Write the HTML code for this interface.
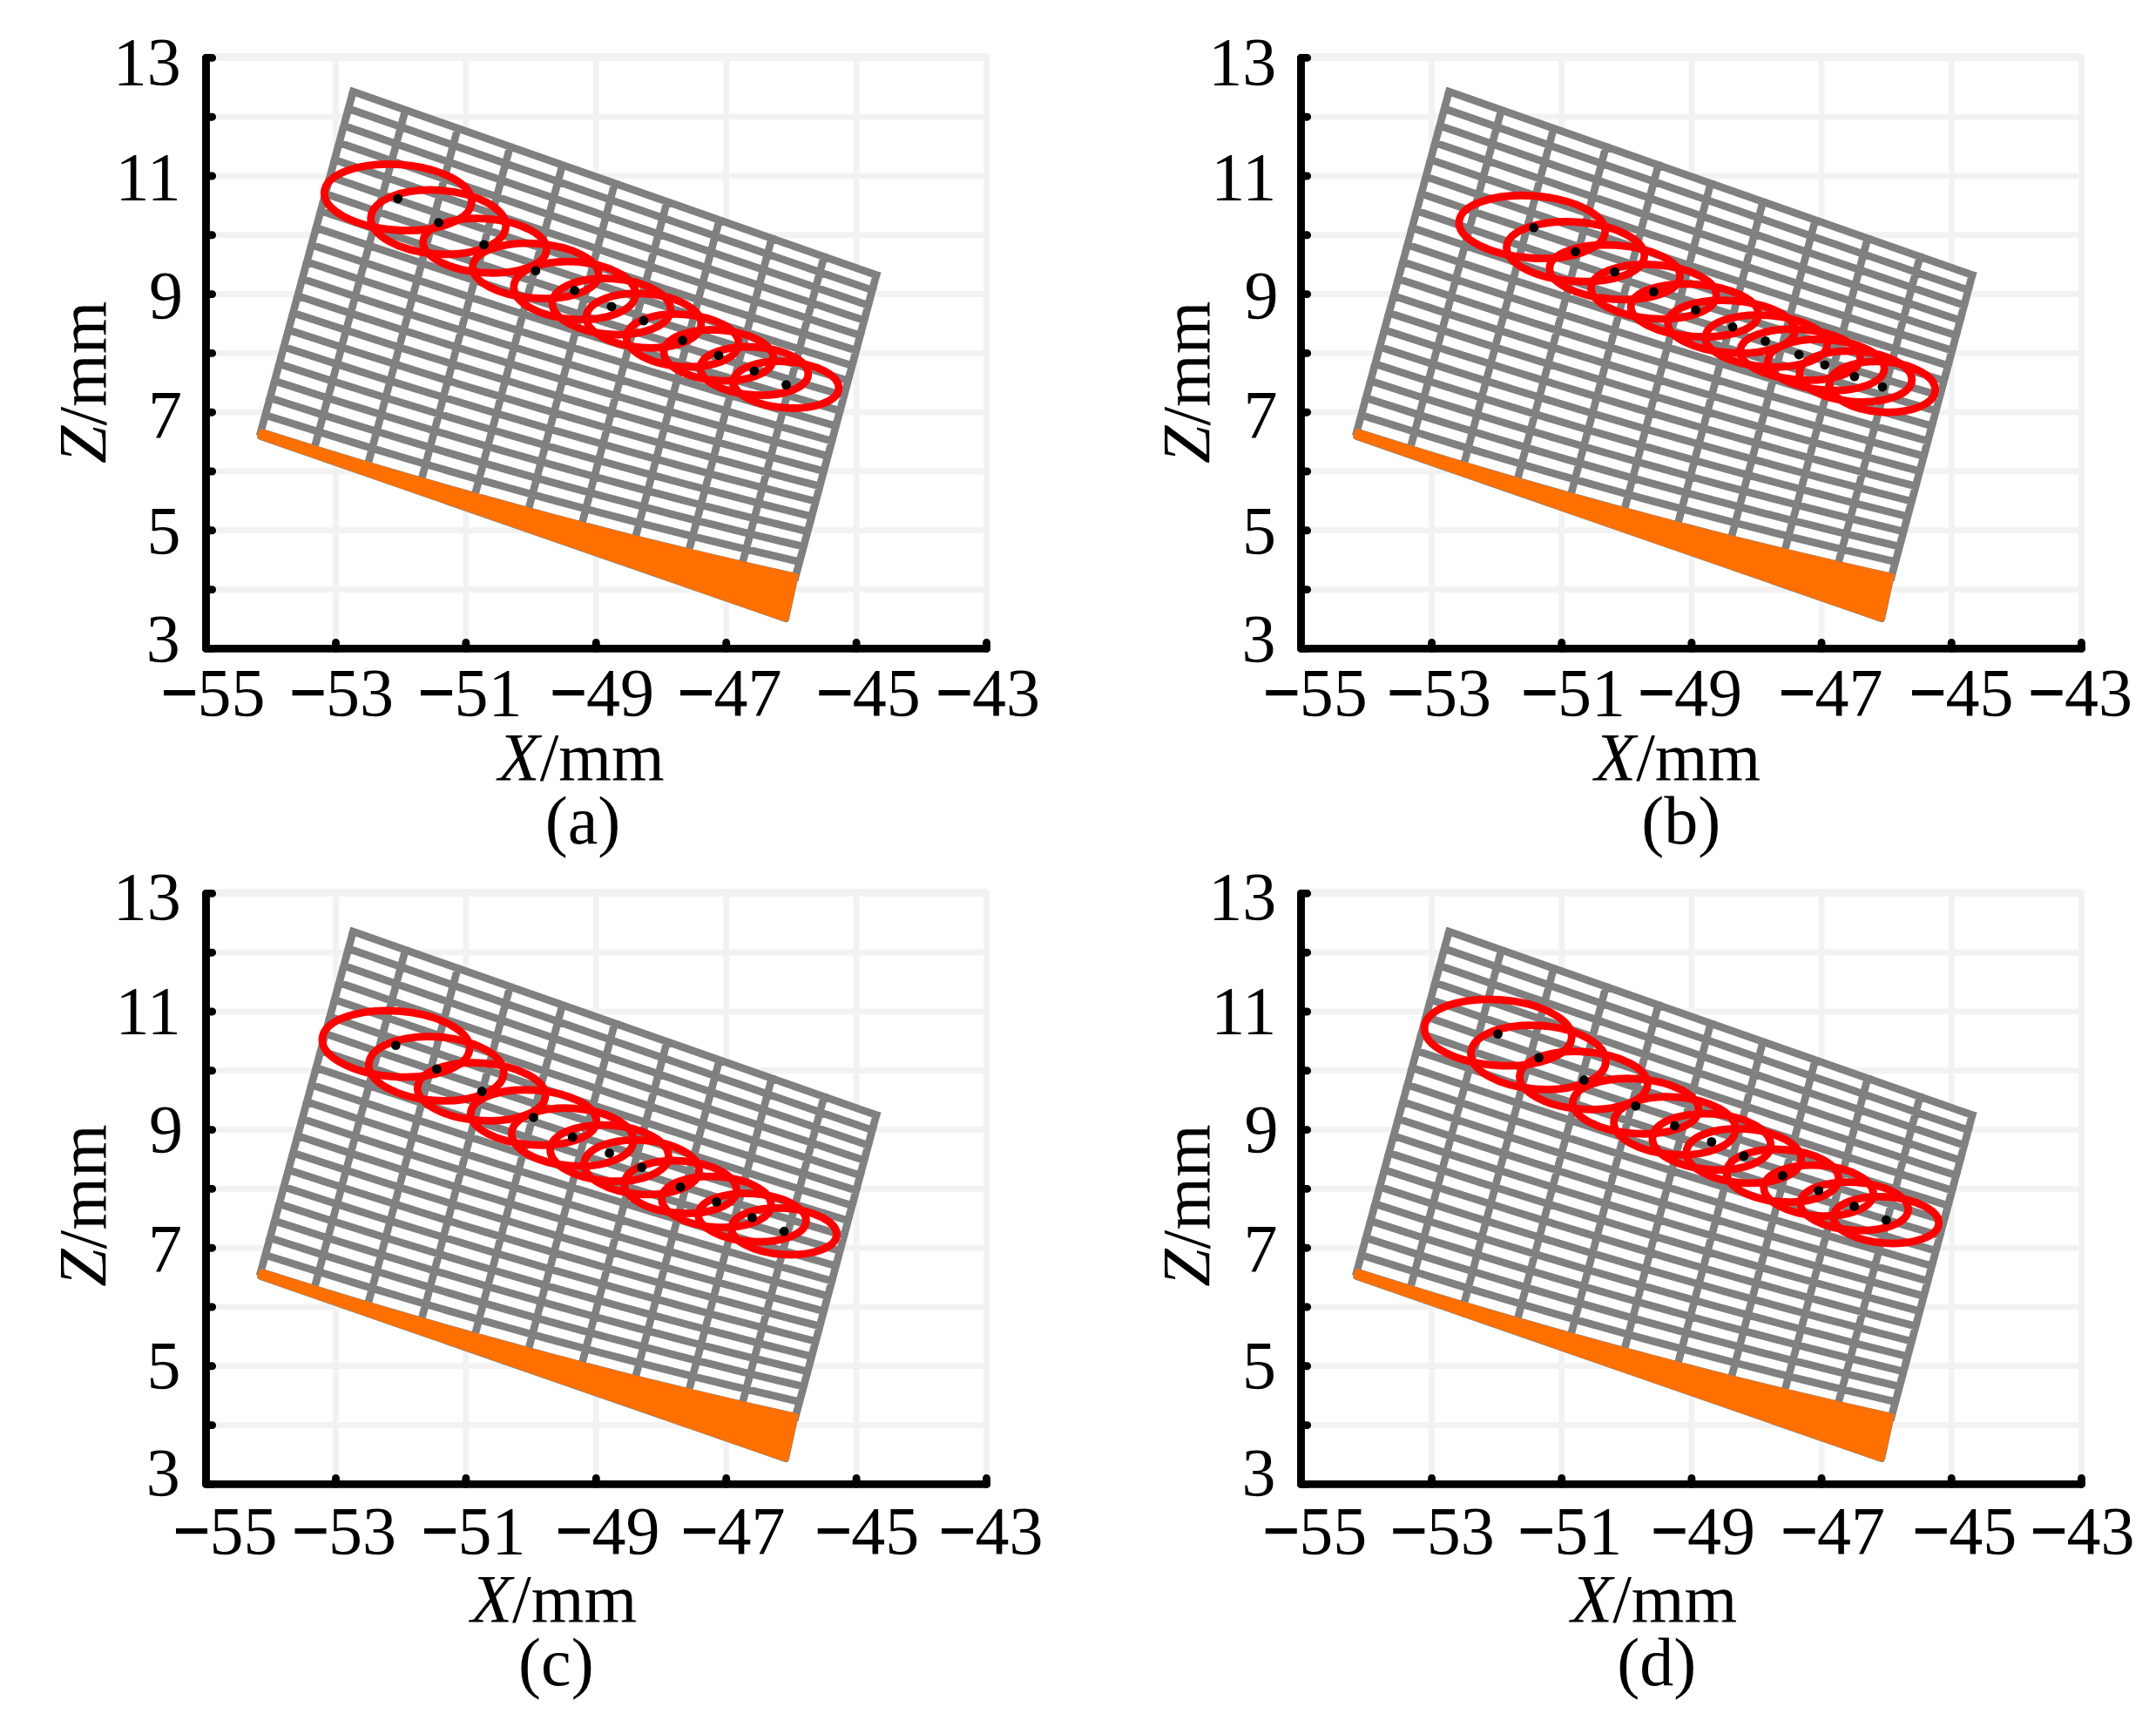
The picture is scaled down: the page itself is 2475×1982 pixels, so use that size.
<!DOCTYPE html>
<html lang="en">
<head>
<meta charset="utf-8">
<title>Figure</title>
<style>
html,body{margin:0;padding:0;background:#fff;}
body{width:2475px;height:1982px;overflow:hidden;}
svg{display:block;}
svg text{font-family:"Liberation Serif", "Times New Roman", serif;font-size:78px;fill:#000;}
svg .m{stroke:#000;stroke-width:2.4px;}
</style>
</head>
<body>
<svg width="2475" height="1982" viewBox="0 0 2475 1982">
<rect width="2475" height="1982" fill="#fff"/>
<g id="panel-a">
<path d="M236.5 676.5 H1132.5 M236.5 608.7 H1132.5 M236.5 540.9 H1132.5 M236.5 473.1 H1132.5 M236.5 405.3 H1132.5 M236.5 337.5 H1132.5 M236.5 269.7 H1132.5 M236.5 201.9 H1132.5 M236.5 134.1 H1132.5 M385.5 66.4 V744.4 M534.9 66.4 V744.4 M684.3 66.4 V744.4 M833.7 66.4 V744.4 M983.1 66.4 V744.4 M1132.5 66.4 V744.4" fill="none" stroke="#f2f2f2" stroke-width="6.8" stroke-linecap="butt"/>
<path d="M236.5 65.5 H1131.5" fill="none" stroke="#f2f2f2" stroke-width="8.9" stroke-linecap="round"/>
<polygon points="405.3,105.2 420.32,110.46 435.34,115.73 450.35,120.99 465.37,126.25 480.39,131.51 495.41,136.78 510.42,142.04 525.44,147.3 540.46,152.56 555.48,157.82 570.49,163.09 585.51,168.35 600.53,173.61 615.55,178.88 630.56,184.14 645.58,189.4 660.6,194.66 675.62,199.93 690.63,205.19 705.65,210.45 720.67,215.71 735.69,220.98 750.7,226.24 765.72,231.5 780.74,236.76 795.76,242.03 810.77,247.29 825.79,252.55 840.81,257.81 855.83,263.07 870.84,268.34 885.86,273.6 900.88,278.86 915.89,284.12 930.91,289.39 945.93,294.65 960.95,299.91 975.96,305.18 990.98,310.44 1006,315.7 913.2,661.95 913.2,661.95 897.85,658.52 882.51,655.05 867.16,651.54 851.81,648 836.46,644.42 821.12,640.8 805.77,637.14 790.42,633.45 775.07,629.72 759.73,625.96 744.38,622.16 729.03,618.32 713.68,614.44 698.34,610.53 682.99,606.58 667.64,602.59 652.29,598.57 636.95,594.51 621.6,590.41 606.25,586.27 590.9,582.1 575.56,577.89 560.21,573.65 544.86,569.37 529.51,565.05 514.16,560.69 498.82,556.3 483.47,551.87 468.12,547.4 452.78,542.9 437.43,538.35 422.08,533.78 406.73,529.16 391.38,524.51 376.04,519.82 360.69,515.1 345.34,510.33 330,505.54 314.65,500.7 299.3,495.83" fill="#fff"/>
<path d="M405.3 105.2 L1006 315.7 M400 124.73 L425.06 133.47 L450.11 142.2 L475.17 150.93 L500.23 159.65 L525.28 168.37 L550.34 177.08 L575.4 185.79 L600.45 194.49 L625.51 203.18 L650.57 211.87 L675.62 220.56 L700.68 229.24 L725.74 237.92 L750.79 246.59 L775.85 255.25 L800.91 263.91 L825.96 272.57 L851.02 281.22 L876.08 289.86 L901.13 298.5 L926.19 307.14 L951.25 315.77 L976.3 324.39 L1001.36 333.01 M394.7 144.26 L419.78 152.97 L444.87 161.66 L469.95 170.34 L495.04 179.02 L520.12 187.68 L545.21 196.33 L570.29 204.97 L595.37 213.61 L620.46 222.23 L645.54 230.84 L670.63 239.44 L695.71 248.03 L720.79 256.61 L745.88 265.18 L770.96 273.74 L796.05 282.29 L821.13 290.83 L846.22 299.36 L871.3 307.88 L896.38 316.39 L921.47 324.89 L946.55 333.38 L971.64 341.86 L996.72 350.33 M389.4 163.79 L414.51 172.46 L439.62 181.12 L464.74 189.76 L489.85 198.38 L514.96 206.99 L540.07 215.59 L565.18 224.16 L590.29 232.73 L615.4 241.27 L640.52 249.81 L665.63 258.32 L690.74 266.82 L715.85 275.31 L740.96 283.78 L766.07 292.23 L791.19 300.67 L816.3 309.1 L841.41 317.51 L866.52 325.9 L891.63 334.28 L916.75 342.64 L941.86 350.99 L966.97 359.32 L992.08 367.64 M384.1 183.33 L409.24 191.96 L434.38 200.58 L459.52 209.17 L484.66 217.75 L509.8 226.3 L534.94 234.84 L560.07 243.35 L585.21 251.85 L610.35 260.32 L635.49 268.77 L660.63 277.2 L685.77 285.61 L710.91 294.01 L736.05 302.38 L761.19 310.73 L786.33 319.05 L811.47 327.36 L836.61 335.65 L861.74 343.92 L886.88 352.17 L912.02 360.39 L937.16 368.6 L962.3 376.79 L987.44 384.95 M378.8 202.86 L403.97 211.46 L429.13 220.04 L454.3 228.59 L479.47 237.12 L504.63 245.62 L529.8 254.09 L554.97 262.54 L580.13 270.97 L605.3 279.36 L630.47 287.74 L655.63 296.08 L680.8 304.41 L705.97 312.7 L731.13 320.97 L756.3 329.22 L781.47 337.44 L806.63 345.63 L831.8 353.8 L856.97 361.94 L882.13 370.05 L907.3 378.15 L932.47 386.21 L957.63 394.25 L982.8 402.26 M373.5 222.39 L398.69 230.96 L423.89 239.5 L449.08 248.01 L474.28 256.48 L499.47 264.93 L524.66 273.35 L549.86 281.73 L575.05 290.09 L600.25 298.41 L625.44 306.7 L650.64 314.97 L675.83 323.2 L701.02 331.4 L726.22 339.57 L751.41 347.71 L776.61 355.82 L801.8 363.89 L827 371.94 L852.19 379.96 L877.38 387.94 L902.58 395.9 L927.77 403.82 L952.97 411.71 L978.16 419.58 M368.2 241.92 L393.42 250.46 L418.64 258.96 L443.87 267.42 L469.09 275.85 L494.31 284.24 L519.53 292.6 L544.75 300.92 L569.97 309.21 L595.2 317.46 L620.42 325.67 L645.64 333.85 L670.86 341.99 L696.08 350.09 L721.3 358.16 L746.52 366.2 L771.75 374.2 L796.97 382.16 L822.19 390.08 L847.41 397.97 L872.63 405.83 L897.86 413.65 L923.08 421.43 L948.3 429.18 L973.52 436.89 M362.9 261.45 L388.15 269.95 L413.4 278.42 L438.65 286.84 L463.9 295.22 L489.15 303.56 L514.39 311.85 L539.64 320.11 L564.89 328.33 L590.14 336.5 L615.39 344.63 L640.64 352.73 L665.89 360.78 L691.14 368.79 L716.39 376.76 L741.64 384.69 L766.89 392.58 L792.14 400.42 L817.38 408.23 L842.63 415.99 L867.88 423.72 L893.13 431.4 L918.38 439.04 L943.63 446.64 L968.88 454.2 M357.6 280.98 L382.88 289.45 L408.15 297.87 L433.43 306.25 L458.71 314.58 L483.98 322.87 L509.26 331.11 L534.54 339.3 L559.81 347.45 L585.09 355.55 L610.37 363.6 L635.64 371.61 L660.92 379.57 L686.2 387.49 L711.47 395.36 L736.75 403.18 L762.03 410.96 L787.3 418.69 L812.58 426.37 L837.86 434.01 L863.13 441.6 L888.41 449.15 L913.69 456.65 L938.96 464.11 L964.24 471.51 M352.3 300.51 L377.6 308.95 L402.91 317.33 L428.21 325.67 L453.52 333.95 L478.82 342.18 L504.12 350.36 L529.43 358.49 L554.73 366.57 L580.04 374.59 L605.34 382.57 L630.65 390.49 L655.95 398.36 L681.25 406.18 L706.56 413.95 L731.86 421.67 L757.17 429.34 L782.47 436.95 L807.78 444.52 L833.08 452.03 L858.38 459.49 L883.69 466.9 L908.99 474.26 L934.3 481.57 L959.6 488.83 M347 320.04 L372.33 328.45 L397.66 336.79 L423 345.08 L448.33 353.32 L473.66 361.49 L498.99 369.61 L524.32 377.68 L549.65 385.69 L574.99 393.64 L600.32 401.53 L625.65 409.37 L650.98 417.15 L676.31 424.88 L701.64 432.55 L726.98 440.16 L752.31 447.72 L777.64 455.22 L802.97 462.66 L828.3 470.05 L853.63 477.38 L878.97 484.65 L904.3 491.87 L929.63 499.03 L954.96 506.14 M341.7 339.58 L367.06 347.94 L392.42 356.25 L417.78 364.5 L443.14 372.68 L468.5 380.81 L493.86 388.87 L519.21 396.87 L544.57 404.81 L569.93 412.68 L595.29 420.5 L620.65 428.25 L646.01 435.94 L671.37 443.57 L696.73 451.14 L722.09 458.65 L747.45 466.1 L772.81 473.48 L798.17 480.81 L823.52 488.07 L848.88 495.27 L874.24 502.41 L899.6 509.48 L924.96 516.5 L950.32 523.45 M336.4 359.11 L361.79 367.44 L387.17 375.71 L412.56 383.91 L437.95 392.05 L463.33 400.12 L488.72 408.12 L514.11 416.06 L539.49 423.93 L564.88 431.73 L590.27 439.46 L615.65 447.13 L641.04 454.74 L666.43 462.27 L691.81 469.74 L717.2 477.14 L742.59 484.48 L767.97 491.75 L793.36 498.95 L818.75 506.09 L844.13 513.15 L869.52 520.16 L894.91 527.09 L920.29 533.96 L945.68 540.76 M331.1 378.64 L356.51 386.94 L381.93 395.17 L407.34 403.33 L432.76 411.42 L458.17 419.43 L483.59 427.37 L509 435.25 L534.41 443.05 L559.83 450.77 L585.24 458.43 L610.66 466.01 L636.07 473.53 L661.48 480.97 L686.9 488.34 L712.31 495.63 L737.73 502.86 L763.14 510.01 L788.56 517.09 L813.97 524.1 L839.38 531.04 L864.8 537.91 L890.21 544.7 L915.63 551.43 L941.04 558.08 M325.8 398.17 L351.24 406.44 L376.68 414.63 L402.13 422.75 L427.57 430.78 L453.01 438.74 L478.45 446.63 L503.89 454.44 L529.33 462.17 L554.78 469.82 L580.22 477.4 L605.66 484.89 L631.1 492.32 L656.54 499.66 L681.98 506.93 L707.42 514.12 L732.87 521.24 L758.31 528.28 L783.75 535.24 L809.19 542.12 L834.63 548.93 L860.08 555.66 L885.52 562.31 L910.96 568.89 L936.4 575.39 M320.5 417.7 L345.97 425.94 L371.44 434.09 L396.91 442.16 L422.38 450.15 L447.85 458.06 L473.31 465.88 L498.78 473.62 L524.25 481.29 L549.72 488.86 L575.19 496.36 L600.66 503.78 L626.13 511.11 L651.6 518.36 L677.07 525.53 L702.54 532.61 L728.01 539.62 L753.48 546.54 L778.95 553.38 L804.41 560.14 L829.88 566.82 L855.35 573.41 L880.82 579.92 L906.29 586.35 L931.76 592.7 M315.2 437.23 L340.7 445.43 L366.19 453.55 L391.69 461.58 L417.19 469.52 L442.68 477.37 L468.18 485.14 L493.68 492.81 L519.17 500.41 L544.67 507.91 L570.17 515.33 L595.66 522.66 L621.16 529.9 L646.66 537.06 L672.15 544.12 L697.65 551.11 L723.15 558 L748.64 564.81 L774.14 571.53 L799.64 578.16 L825.13 584.7 L850.63 591.16 L876.13 597.53 L901.62 603.82 L927.12 610.02 M309.9 456.76 L335.42 464.93 L360.95 473.01 L386.47 480.99 L412 488.88 L437.52 496.68 L463.05 504.39 L488.57 512 L514.09 519.53 L539.62 526.96 L565.14 534.29 L590.67 541.54 L616.19 548.69 L641.71 555.75 L667.24 562.72 L692.76 569.6 L718.29 576.38 L743.81 583.07 L769.34 589.67 L794.86 596.18 L820.38 602.59 L845.91 608.91 L871.43 615.14 L896.96 621.28 L922.48 627.33 M304.6 476.3 L330.15 484.43 L355.7 492.47 L381.26 500.41 L406.81 508.25 L432.36 515.99 L457.91 523.64 L483.46 531.19 L509.01 538.65 L534.57 546 L560.12 553.26 L585.67 560.42 L611.22 567.48 L636.77 574.45 L662.32 581.32 L687.88 588.09 L713.43 594.76 L738.98 601.34 L764.53 607.81 L790.08 614.2 L815.63 620.48 L841.19 626.67 L866.74 632.76 L892.29 638.75 L917.84 644.64 M299.3 495.83 L324.88 503.93 L350.46 511.93 L376.04 519.82 L401.62 527.62 L427.2 535.31 L452.78 542.9 L478.35 550.38 L503.93 557.77 L529.51 565.05 L555.09 572.22 L580.67 579.3 L606.25 586.27 L631.83 593.14 L657.41 599.91 L682.99 606.58 L708.57 613.14 L734.15 619.6 L759.73 625.96 L785.3 632.21 L810.88 638.37 L836.46 644.42 L862.04 650.37 L887.62 656.21 L913.2 661.95 M405.3 105.2 L299.3 495.83 M465.37 126.25 L360.69 515.1 M525.44 147.3 L422.08 533.78 M585.51 168.35 L483.47 551.87 M645.58 189.4 L544.86 569.37 M705.65 210.45 L606.25 586.27 M765.72 231.5 L667.64 602.59 M825.79 252.55 L729.03 618.32 M885.86 273.6 L790.42 633.45 M945.93 294.65 L851.81 648 M1006 315.7 L913.2 661.95" fill="none" stroke="#808080" stroke-width="8.7" stroke-linecap="square"/>
<path d="M319.88 498.66 L341.21 505.35 L362.54 511.97 L383.87 518.53 L405.21 525.01 L426.54 531.42 L447.87 537.75 L469.2 544.02 L490.53 550.22 L511.86 556.34 L533.19 562.39 L554.52 568.37 L575.85 574.28 L597.18 580.12 L618.52 585.89 L639.85 591.59 L661.18 597.21 L682.51 602.77 L703.84 608.25 L725.17 613.66 L746.5 619 L767.83 624.27 L789.16 629.46 L810.49 634.59 L831.83 639.64 L853.16 644.63 L874.49 649.54 L895.82 654.38 L917.15 659.15 L915.69 658.82 Q917.15 659.15 916.83 660.61 L906.06 710.51 Q905 715.4 900.28 713.76 L297.88 504.79 Q294.1 503.48 295.53 499.74 L297.47 494.69 Q298.55 491.89 301.41 492.8 Z" fill="#7d8388"/>
<path d="M319.73 498.31 L341.06 505 L362.39 511.62 L383.72 518.18 L405.06 524.66 L426.39 531.07 L447.72 537.4 L469.05 543.67 L490.38 549.87 L511.71 555.99 L533.04 562.04 L554.37 568.02 L575.7 573.93 L597.03 579.77 L618.37 585.54 L639.7 591.24 L661.03 596.86 L682.36 602.42 L703.69 607.9 L725.02 613.31 L746.35 618.65 L767.68 623.92 L789.01 629.11 L810.34 634.24 L831.68 639.29 L853.01 644.28 L874.34 649.19 L895.67 654.03 L917 658.8 L915.54 658.47 Q917 658.8 916.67 660.26 L905.5 709.72 Q904.4 714.6 899.68 712.96 L298.18 504.21 Q294.4 502.9 295.73 499.13 L297.4 494.37 Q298.4 491.54 301.26 492.45 Z" fill="#ff7000"/>
<ellipse cx="456.9" cy="226.4" rx="84.7" ry="37.7" transform="rotate(4 456.9 226.4)" fill="none" stroke="#ff0000" stroke-width="8.8"/>
<ellipse cx="503.2" cy="254.9" rx="77.6" ry="36.6" transform="rotate(4 503.2 254.9)" fill="none" stroke="#ff0000" stroke-width="8.8"/>
<ellipse cx="556.6" cy="282" rx="71" ry="31" transform="rotate(4 556.6 282)" fill="none" stroke="#ff0000" stroke-width="8.8"/>
<ellipse cx="614.9" cy="310.9" rx="72.4" ry="31.4" transform="rotate(4 614.9 310.9)" fill="none" stroke="#ff0000" stroke-width="8.8"/>
<ellipse cx="659.7" cy="333.4" rx="70" ry="33" transform="rotate(4 659.7 333.4)" fill="none" stroke="#ff0000" stroke-width="8.8"/>
<ellipse cx="702" cy="351.8" rx="68" ry="32" transform="rotate(4 702 351.8)" fill="none" stroke="#ff0000" stroke-width="8.8"/>
<ellipse cx="739" cy="368" rx="66" ry="31" transform="rotate(4 739 368)" fill="none" stroke="#ff0000" stroke-width="8.8"/>
<ellipse cx="783.6" cy="390.7" rx="64.5" ry="30" transform="rotate(4 783.6 390.7)" fill="none" stroke="#ff0000" stroke-width="8.8"/>
<ellipse cx="824.9" cy="407.8" rx="63" ry="29" transform="rotate(4 824.9 407.8)" fill="none" stroke="#ff0000" stroke-width="8.8"/>
<ellipse cx="865.9" cy="425.8" rx="62" ry="27.5" transform="rotate(4 865.9 425.8)" fill="none" stroke="#ff0000" stroke-width="8.8"/>
<ellipse cx="902.5" cy="441.6" rx="60.5" ry="26.6" transform="rotate(4 902.5 441.6)" fill="none" stroke="#ff0000" stroke-width="8.8"/>
<circle cx="456.7" cy="228" r="5.4" fill="#000"/>
<circle cx="503.7" cy="255.3" r="5.4" fill="#000"/>
<circle cx="555.6" cy="280.9" r="5.4" fill="#000"/>
<circle cx="614.9" cy="310.7" r="5.4" fill="#000"/>
<circle cx="659.7" cy="333.4" r="5.4" fill="#000"/>
<circle cx="702" cy="351.8" r="5.4" fill="#000"/>
<circle cx="739" cy="368" r="5.4" fill="#000"/>
<circle cx="783.6" cy="390.7" r="5.4" fill="#000"/>
<circle cx="824.9" cy="407.8" r="5.4" fill="#000"/>
<circle cx="865.9" cy="425.8" r="5.4" fill="#000"/>
<circle cx="902.5" cy="441.6" r="5.4" fill="#000"/>
<path d="M236.5 66.4 V744.4 H1132.5" fill="none" stroke="#000" stroke-width="8.9" stroke-linecap="round" stroke-linejoin="round"/>
<path d="M236.5 744.4 h7.15 M236.5 676.6 h7.15 M236.5 608.8 h7.15 M236.5 541 h7.15 M236.5 473.2 h7.15 M236.5 405.4 h7.15 M236.5 337.6 h7.15 M236.5 269.8 h7.15 M236.5 202 h7.15 M236.5 134.2 h7.15 M236.5 66.4 h7.15 M385.5 744.4 v-6.95 M534.9 744.4 v-6.95 M684.3 744.4 v-6.95 M833.7 744.4 v-6.95 M983.1 744.4 v-6.95 M1132.5 744.4 v-6.95" fill="none" stroke="#000" stroke-width="8.9" stroke-linecap="round"/>
<text x="207.7" y="97.2" text-anchor="end">13</text>
<text x="207.7" y="228.7" text-anchor="end">11</text>
<text x="210" y="364.9" text-anchor="end">9</text>
<text x="209" y="501.8" text-anchor="end">7</text>
<text x="207.4" y="635" text-anchor="end">5</text>
<text x="206.8" y="758.7" text-anchor="end">3</text>
<text x="185.5" y="820.7"><tspan class="m" textLength="41" lengthAdjust="spacingAndGlyphs">−</tspan>55</text>
<text x="333" y="820.7"><tspan class="m" textLength="41" lengthAdjust="spacingAndGlyphs">−</tspan>53</text>
<text x="480.5" y="820.7"><tspan class="m" textLength="41" lengthAdjust="spacingAndGlyphs">−</tspan>51</text>
<text x="632" y="820.7"><tspan class="m" textLength="41" lengthAdjust="spacingAndGlyphs">−</tspan>49</text>
<text x="778.5" y="820.7"><tspan class="m" textLength="41" lengthAdjust="spacingAndGlyphs">−</tspan>47</text>
<text x="937.7" y="820.7"><tspan class="m" textLength="41" lengthAdjust="spacingAndGlyphs">−</tspan>45</text>
<text x="1075" y="820.7"><tspan class="m" textLength="41" lengthAdjust="spacingAndGlyphs">−</tspan>43</text>
<text x="572" y="895.2"><tspan font-style="italic">X</tspan>/mm</text>
<text transform="translate(121 532) rotate(-90)"><tspan font-style="italic">Z</tspan>/mm</text>
<text x="625.7" y="968">(a)</text>
</g>
<g id="panel-b">
<path d="M1493.5 676.5 H2389.4 M1493.5 608.7 H2389.4 M1493.5 540.9 H2389.4 M1493.5 473.1 H2389.4 M1493.5 405.3 H2389.4 M1493.5 337.5 H2389.4 M1493.5 269.7 H2389.4 M1493.5 201.9 H2389.4 M1493.5 134.1 H2389.4 M1643.6 66.4 V744.4 M1792.76 66.4 V744.4 M1941.92 66.4 V744.4 M2091.08 66.4 V744.4 M2240.24 66.4 V744.4 M2389.4 66.4 V744.4" fill="none" stroke="#f2f2f2" stroke-width="6.8" stroke-linecap="butt"/>
<path d="M1493.5 65.5 H2388.4" fill="none" stroke="#f2f2f2" stroke-width="8.9" stroke-linecap="round"/>
<polygon points="1663.4,105.2 1678.42,110.46 1693.43,115.73 1708.45,120.99 1723.47,126.25 1738.49,131.51 1753.5,136.78 1768.52,142.04 1783.54,147.3 1798.56,152.56 1813.57,157.82 1828.59,163.09 1843.61,168.35 1858.63,173.61 1873.64,178.88 1888.66,184.14 1903.68,189.4 1918.7,194.66 1933.71,199.93 1948.73,205.19 1963.75,210.45 1978.77,215.71 1993.78,220.98 2008.8,226.24 2023.82,231.5 2038.84,236.76 2053.86,242.03 2068.87,247.29 2083.89,252.55 2098.91,257.81 2113.93,263.07 2128.94,268.34 2143.96,273.6 2158.98,278.86 2173.99,284.12 2189.01,289.39 2204.03,294.65 2219.05,299.91 2234.06,305.18 2249.08,310.44 2264.1,315.7 2171.3,661.95 2171.3,661.95 2155.95,658.52 2140.61,655.05 2125.26,651.54 2109.91,648 2094.56,644.42 2079.22,640.8 2063.87,637.14 2048.52,633.45 2033.17,629.72 2017.83,625.96 2002.48,622.16 1987.13,618.32 1971.78,614.44 1956.43,610.53 1941.09,606.58 1925.74,602.59 1910.39,598.57 1895.05,594.51 1879.7,590.41 1864.35,586.27 1849,582.1 1833.65,577.89 1818.31,573.65 1802.96,569.37 1787.61,565.05 1772.26,560.69 1756.92,556.3 1741.57,551.87 1726.22,547.4 1710.88,542.9 1695.53,538.35 1680.18,533.78 1664.83,529.16 1649.48,524.51 1634.14,519.82 1618.79,515.1 1603.44,510.33 1588.09,505.54 1572.75,500.7 1557.4,495.83" fill="#fff"/>
<path d="M1663.4 105.2 L2264.1 315.7 M1658.1 124.73 L1683.16 133.47 L1708.21 142.2 L1733.27 150.93 L1758.33 159.65 L1783.38 168.37 L1808.44 177.08 L1833.5 185.79 L1858.55 194.49 L1883.61 203.18 L1908.67 211.87 L1933.72 220.56 L1958.78 229.24 L1983.84 237.92 L2008.89 246.59 L2033.95 255.25 L2059.01 263.91 L2084.06 272.57 L2109.12 281.22 L2134.18 289.86 L2159.23 298.5 L2184.29 307.14 L2209.35 315.77 L2234.4 324.39 L2259.46 333.01 M1652.8 144.26 L1677.88 152.97 L1702.97 161.66 L1728.05 170.34 L1753.14 179.02 L1778.22 187.68 L1803.3 196.33 L1828.39 204.97 L1853.47 213.61 L1878.56 222.23 L1903.64 230.84 L1928.73 239.44 L1953.81 248.03 L1978.89 256.61 L2003.98 265.18 L2029.06 273.74 L2054.15 282.29 L2079.23 290.83 L2104.32 299.36 L2129.4 307.88 L2154.48 316.39 L2179.57 324.89 L2204.65 333.38 L2229.74 341.86 L2254.82 350.33 M1647.5 163.79 L1672.61 172.46 L1697.72 181.12 L1722.84 189.76 L1747.95 198.38 L1773.06 206.99 L1798.17 215.59 L1823.28 224.16 L1848.39 232.73 L1873.5 241.27 L1898.62 249.81 L1923.73 258.32 L1948.84 266.82 L1973.95 275.31 L1999.06 283.78 L2024.17 292.23 L2049.29 300.67 L2074.4 309.1 L2099.51 317.51 L2124.62 325.9 L2149.73 334.28 L2174.85 342.64 L2199.96 350.99 L2225.07 359.32 L2250.18 367.64 M1642.2 183.33 L1667.34 191.96 L1692.48 200.58 L1717.62 209.17 L1742.76 217.75 L1767.9 226.3 L1793.03 234.84 L1818.17 243.35 L1843.31 251.85 L1868.45 260.32 L1893.59 268.77 L1918.73 277.2 L1943.87 285.61 L1969.01 294.01 L1994.15 302.38 L2019.29 310.73 L2044.43 319.05 L2069.57 327.36 L2094.7 335.65 L2119.84 343.92 L2144.98 352.17 L2170.12 360.39 L2195.26 368.6 L2220.4 376.79 L2245.54 384.95 M1636.9 202.86 L1662.07 211.46 L1687.23 220.04 L1712.4 228.59 L1737.57 237.12 L1762.73 245.62 L1787.9 254.09 L1813.07 262.54 L1838.23 270.97 L1863.4 279.36 L1888.57 287.74 L1913.73 296.08 L1938.9 304.41 L1964.07 312.7 L1989.23 320.97 L2014.4 329.22 L2039.57 337.44 L2064.73 345.63 L2089.9 353.8 L2115.07 361.94 L2140.23 370.05 L2165.4 378.15 L2190.57 386.21 L2215.73 394.25 L2240.9 402.26 M1631.6 222.39 L1656.79 230.96 L1681.99 239.5 L1707.18 248.01 L1732.38 256.48 L1757.57 264.93 L1782.76 273.35 L1807.96 281.73 L1833.15 290.09 L1858.35 298.41 L1883.54 306.7 L1908.74 314.97 L1933.93 323.2 L1959.12 331.4 L1984.32 339.57 L2009.51 347.71 L2034.71 355.82 L2059.9 363.89 L2085.09 371.94 L2110.29 379.96 L2135.48 387.94 L2160.68 395.9 L2185.87 403.82 L2211.07 411.71 L2236.26 419.58 M1626.3 241.92 L1651.52 250.46 L1676.74 258.96 L1701.96 267.42 L1727.19 275.85 L1752.41 284.24 L1777.63 292.6 L1802.85 300.92 L1828.07 309.21 L1853.3 317.46 L1878.52 325.67 L1903.74 333.85 L1928.96 341.99 L1954.18 350.09 L1979.4 358.16 L2004.62 366.2 L2029.85 374.2 L2055.07 382.16 L2080.29 390.08 L2105.51 397.97 L2130.73 405.83 L2155.95 413.65 L2181.18 421.43 L2206.4 429.18 L2231.62 436.89 M1621 261.45 L1646.25 269.95 L1671.5 278.42 L1696.75 286.84 L1722 295.22 L1747.25 303.56 L1772.49 311.85 L1797.74 320.11 L1822.99 328.33 L1848.24 336.5 L1873.49 344.63 L1898.74 352.73 L1923.99 360.78 L1949.24 368.79 L1974.49 376.76 L1999.74 384.69 L2024.99 392.58 L2050.24 400.42 L2075.48 408.23 L2100.73 415.99 L2125.98 423.72 L2151.23 431.4 L2176.48 439.04 L2201.73 446.64 L2226.98 454.2 M1615.7 280.98 L1640.98 289.45 L1666.25 297.87 L1691.53 306.25 L1716.81 314.58 L1742.08 322.87 L1767.36 331.11 L1792.64 339.3 L1817.91 347.45 L1843.19 355.55 L1868.47 363.6 L1893.74 371.61 L1919.02 379.57 L1944.3 387.49 L1969.57 395.36 L1994.85 403.18 L2020.13 410.96 L2045.4 418.69 L2070.68 426.37 L2095.96 434.01 L2121.23 441.6 L2146.51 449.15 L2171.79 456.65 L2197.06 464.11 L2222.34 471.51 M1610.4 300.51 L1635.7 308.95 L1661.01 317.33 L1686.31 325.67 L1711.62 333.95 L1736.92 342.18 L1762.22 350.36 L1787.53 358.49 L1812.83 366.57 L1838.14 374.59 L1863.44 382.57 L1888.75 390.49 L1914.05 398.36 L1939.35 406.18 L1964.66 413.95 L1989.96 421.67 L2015.27 429.34 L2040.57 436.95 L2065.88 444.52 L2091.18 452.03 L2116.48 459.49 L2141.79 466.9 L2167.09 474.26 L2192.4 481.57 L2217.7 488.83 M1605.1 320.04 L1630.43 328.45 L1655.76 336.79 L1681.09 345.08 L1706.43 353.32 L1731.76 361.49 L1757.09 369.61 L1782.42 377.68 L1807.75 385.69 L1833.09 393.64 L1858.42 401.53 L1883.75 409.37 L1909.08 417.15 L1934.41 424.88 L1959.74 432.55 L1985.07 440.16 L2010.41 447.72 L2035.74 455.22 L2061.07 462.66 L2086.4 470.05 L2111.73 477.38 L2137.07 484.65 L2162.4 491.87 L2187.73 499.03 L2213.06 506.14 M1599.8 339.58 L1625.16 347.94 L1650.52 356.25 L1675.88 364.5 L1701.24 372.68 L1726.6 380.81 L1751.95 388.87 L1777.31 396.87 L1802.67 404.81 L1828.03 412.68 L1853.39 420.5 L1878.75 428.25 L1904.11 435.94 L1929.47 443.57 L1954.83 451.14 L1980.19 458.65 L2005.55 466.1 L2030.91 473.48 L2056.27 480.81 L2081.62 488.07 L2106.98 495.27 L2132.34 502.41 L2157.7 509.48 L2183.06 516.5 L2208.42 523.45 M1594.5 359.11 L1619.89 367.44 L1645.27 375.71 L1670.66 383.91 L1696.05 392.05 L1721.43 400.12 L1746.82 408.12 L1772.21 416.06 L1797.59 423.93 L1822.98 431.73 L1848.37 439.46 L1873.75 447.13 L1899.14 454.74 L1924.53 462.27 L1949.91 469.74 L1975.3 477.14 L2000.69 484.48 L2026.07 491.75 L2051.46 498.95 L2076.85 506.09 L2102.23 513.15 L2127.62 520.16 L2153.01 527.09 L2178.39 533.96 L2203.78 540.76 M1589.2 378.64 L1614.61 386.94 L1640.03 395.17 L1665.44 403.33 L1690.86 411.42 L1716.27 419.43 L1741.68 427.37 L1767.1 435.25 L1792.51 443.05 L1817.93 450.77 L1843.34 458.43 L1868.76 466.01 L1894.17 473.53 L1919.58 480.97 L1945 488.34 L1970.41 495.63 L1995.83 502.86 L2021.24 510.01 L2046.66 517.09 L2072.07 524.1 L2097.48 531.04 L2122.9 537.91 L2148.31 544.7 L2173.73 551.43 L2199.14 558.08 M1583.9 398.17 L1609.34 406.44 L1634.78 414.63 L1660.22 422.75 L1685.67 430.78 L1711.11 438.74 L1736.55 446.63 L1761.99 454.44 L1787.43 462.17 L1812.88 469.82 L1838.32 477.4 L1863.76 484.89 L1889.2 492.32 L1914.64 499.66 L1940.08 506.93 L1965.52 514.12 L1990.97 521.24 L2016.41 528.28 L2041.85 535.24 L2067.29 542.12 L2092.73 548.93 L2118.18 555.66 L2143.62 562.31 L2169.06 568.89 L2194.5 575.39 M1578.6 417.7 L1604.07 425.94 L1629.54 434.09 L1655.01 442.16 L1680.48 450.15 L1705.95 458.06 L1731.41 465.88 L1756.88 473.62 L1782.35 481.29 L1807.82 488.86 L1833.29 496.36 L1858.76 503.78 L1884.23 511.11 L1909.7 518.36 L1935.17 525.53 L1960.64 532.61 L1986.11 539.62 L2011.58 546.54 L2037.05 553.38 L2062.51 560.14 L2087.98 566.82 L2113.45 573.41 L2138.92 579.92 L2164.39 586.35 L2189.86 592.7 M1573.3 437.23 L1598.8 445.43 L1624.29 453.55 L1649.79 461.58 L1675.29 469.52 L1700.78 477.37 L1726.28 485.14 L1751.78 492.81 L1777.27 500.41 L1802.77 507.91 L1828.27 515.33 L1853.76 522.66 L1879.26 529.9 L1904.76 537.06 L1930.25 544.12 L1955.75 551.11 L1981.25 558 L2006.74 564.81 L2032.24 571.53 L2057.74 578.16 L2083.23 584.7 L2108.73 591.16 L2134.23 597.53 L2159.72 603.82 L2185.22 610.02 M1568 456.76 L1593.52 464.93 L1619.05 473.01 L1644.57 480.99 L1670.1 488.88 L1695.62 496.68 L1721.14 504.39 L1746.67 512 L1772.19 519.53 L1797.72 526.96 L1823.24 534.29 L1848.77 541.54 L1874.29 548.69 L1899.81 555.75 L1925.34 562.72 L1950.86 569.6 L1976.39 576.38 L2001.91 583.07 L2027.43 589.67 L2052.96 596.18 L2078.48 602.59 L2104.01 608.91 L2129.53 615.14 L2155.06 621.28 L2180.58 627.33 M1562.7 476.3 L1588.25 484.43 L1613.8 492.47 L1639.36 500.41 L1664.91 508.25 L1690.46 515.99 L1716.01 523.64 L1741.56 531.19 L1767.11 538.65 L1792.66 546 L1818.22 553.26 L1843.77 560.42 L1869.32 567.48 L1894.87 574.45 L1920.42 581.32 L1945.97 588.09 L1971.53 594.76 L1997.08 601.34 L2022.63 607.81 L2048.18 614.2 L2073.73 620.48 L2099.28 626.67 L2124.84 632.76 L2150.39 638.75 L2175.94 644.64 M1557.4 495.83 L1582.98 503.93 L1608.56 511.93 L1634.14 519.82 L1659.72 527.62 L1685.3 535.31 L1710.88 542.9 L1736.45 550.38 L1762.03 557.77 L1787.61 565.05 L1813.19 572.22 L1838.77 579.3 L1864.35 586.27 L1889.93 593.14 L1915.51 599.91 L1941.09 606.58 L1966.67 613.14 L1992.25 619.6 L2017.83 625.96 L2043.4 632.21 L2068.98 638.37 L2094.56 644.42 L2120.14 650.37 L2145.72 656.21 L2171.3 661.95 M1663.4 105.2 L1557.4 495.83 M1723.47 126.25 L1618.79 515.1 M1783.54 147.3 L1680.18 533.78 M1843.61 168.35 L1741.57 551.87 M1903.68 189.4 L1802.96 569.37 M1963.75 210.45 L1864.35 586.27 M2023.82 231.5 L1925.74 602.59 M2083.89 252.55 L1987.13 618.32 M2143.96 273.6 L2048.52 633.45 M2204.03 294.65 L2109.91 648 M2264.1 315.7 L2171.3 661.95" fill="none" stroke="#808080" stroke-width="8.7" stroke-linecap="square"/>
<path d="M1577.98 498.66 L1599.31 505.35 L1620.64 511.97 L1641.97 518.53 L1663.31 525.01 L1684.64 531.42 L1705.97 537.75 L1727.3 544.02 L1748.63 550.22 L1769.96 556.34 L1791.29 562.39 L1812.62 568.37 L1833.95 574.28 L1855.28 580.12 L1876.62 585.89 L1897.95 591.59 L1919.28 597.21 L1940.61 602.77 L1961.94 608.25 L1983.27 613.66 L2004.6 619 L2025.93 624.27 L2047.26 629.46 L2068.59 634.59 L2089.93 639.64 L2111.26 644.63 L2132.59 649.54 L2153.92 654.38 L2175.25 659.15 L2173.79 658.82 Q2175.25 659.15 2174.93 660.61 L2164.16 710.51 Q2163.1 715.4 2158.38 713.76 L1555.98 504.79 Q1552.2 503.48 1553.63 499.74 L1555.57 494.69 Q1556.65 491.89 1559.51 492.8 Z" fill="#7d8388"/>
<path d="M1577.83 498.31 L1599.16 505 L1620.49 511.62 L1641.82 518.18 L1663.16 524.66 L1684.49 531.07 L1705.82 537.4 L1727.15 543.67 L1748.48 549.87 L1769.81 555.99 L1791.14 562.04 L1812.47 568.02 L1833.8 573.93 L1855.13 579.77 L1876.47 585.54 L1897.8 591.24 L1919.13 596.86 L1940.46 602.42 L1961.79 607.9 L1983.12 613.31 L2004.45 618.65 L2025.78 623.92 L2047.11 629.11 L2068.44 634.24 L2089.78 639.29 L2111.11 644.28 L2132.44 649.19 L2153.77 654.03 L2175.1 658.8 L2173.64 658.47 Q2175.1 658.8 2174.77 660.26 L2163.6 709.72 Q2162.5 714.6 2157.78 712.96 L1556.28 504.21 Q1552.5 502.9 1553.83 499.13 L1555.5 494.37 Q1556.5 491.54 1559.36 492.45 Z" fill="#ff7000"/>
<ellipse cx="1758.8" cy="260.4" rx="84" ry="35.7" transform="rotate(4 1758.8 260.4)" fill="none" stroke="#ff0000" stroke-width="8.8"/>
<ellipse cx="1808.6" cy="288.8" rx="79.2" ry="34" transform="rotate(4 1808.6 288.8)" fill="none" stroke="#ff0000" stroke-width="8.8"/>
<ellipse cx="1853.7" cy="312.4" rx="75" ry="31" transform="rotate(4 1853.7 312.4)" fill="none" stroke="#ff0000" stroke-width="8.8"/>
<ellipse cx="1898.4" cy="334.7" rx="72" ry="31" transform="rotate(4 1898.4 334.7)" fill="none" stroke="#ff0000" stroke-width="8.8"/>
<ellipse cx="1945.4" cy="356.2" rx="73.4" ry="30" transform="rotate(4 1945.4 356.2)" fill="none" stroke="#ff0000" stroke-width="8.8"/>
<ellipse cx="1987.5" cy="375" rx="73" ry="30" transform="rotate(4 1987.5 375)" fill="none" stroke="#ff0000" stroke-width="8.8"/>
<ellipse cx="2027.6" cy="391.4" rx="70" ry="29.5" transform="rotate(4 2027.6 391.4)" fill="none" stroke="#ff0000" stroke-width="8.8"/>
<ellipse cx="2066.6" cy="407" rx="69" ry="29" transform="rotate(4 2066.6 407)" fill="none" stroke="#ff0000" stroke-width="8.8"/>
<ellipse cx="2096.3" cy="418.8" rx="67" ry="29" transform="rotate(4 2096.3 418.8)" fill="none" stroke="#ff0000" stroke-width="8.8"/>
<ellipse cx="2130.2" cy="432.1" rx="64.6" ry="29" transform="rotate(4 2130.2 432.1)" fill="none" stroke="#ff0000" stroke-width="8.8"/>
<ellipse cx="2160.9" cy="444" rx="60.7" ry="28.9" transform="rotate(4 2160.9 444)" fill="none" stroke="#ff0000" stroke-width="8.8"/>
<circle cx="1760.7" cy="261.2" r="5.4" fill="#000"/>
<circle cx="1808.6" cy="288.8" r="5.4" fill="#000"/>
<circle cx="1853.7" cy="312" r="5.4" fill="#000"/>
<circle cx="1898.4" cy="334.7" r="5.4" fill="#000"/>
<circle cx="1946.6" cy="355.8" r="5.4" fill="#000"/>
<circle cx="1989" cy="375.3" r="5.4" fill="#000"/>
<circle cx="2026.6" cy="391.4" r="5.4" fill="#000"/>
<circle cx="2065.1" cy="407" r="5.4" fill="#000"/>
<circle cx="2094.8" cy="418.8" r="5.4" fill="#000"/>
<circle cx="2128.9" cy="432.1" r="5.4" fill="#000"/>
<circle cx="2160.9" cy="444" r="5.4" fill="#000"/>
<path d="M1493.5 66.4 V744.4 H2389.4" fill="none" stroke="#000" stroke-width="8.9" stroke-linecap="round" stroke-linejoin="round"/>
<path d="M1493.5 744.4 h7.15 M1493.5 676.6 h7.15 M1493.5 608.8 h7.15 M1493.5 541 h7.15 M1493.5 473.2 h7.15 M1493.5 405.4 h7.15 M1493.5 337.6 h7.15 M1493.5 269.8 h7.15 M1493.5 202 h7.15 M1493.5 134.2 h7.15 M1493.5 66.4 h7.15 M1643.6 744.4 v-6.95 M1792.76 744.4 v-6.95 M1941.92 744.4 v-6.95 M2091.08 744.4 v-6.95 M2240.24 744.4 v-6.95 M2389.4 744.4 v-6.95" fill="none" stroke="#000" stroke-width="8.9" stroke-linecap="round"/>
<text x="1465.3" y="97.2" text-anchor="end">13</text>
<text x="1465.3" y="228.7" text-anchor="end">11</text>
<text x="1467.6" y="364.9" text-anchor="end">9</text>
<text x="1466.6" y="501.8" text-anchor="end">7</text>
<text x="1465" y="635" text-anchor="end">5</text>
<text x="1464.4" y="758.7" text-anchor="end">3</text>
<text x="1450.8" y="821"><tspan class="m" textLength="41" lengthAdjust="spacingAndGlyphs">−</tspan>55</text>
<text x="1593" y="821"><tspan class="m" textLength="41" lengthAdjust="spacingAndGlyphs">−</tspan>53</text>
<text x="1747.1" y="821"><tspan class="m" textLength="41" lengthAdjust="spacingAndGlyphs">−</tspan>51</text>
<text x="1881.1" y="821"><tspan class="m" textLength="41" lengthAdjust="spacingAndGlyphs">−</tspan>49</text>
<text x="2042.4" y="821"><tspan class="m" textLength="41" lengthAdjust="spacingAndGlyphs">−</tspan>47</text>
<text x="2192.4" y="821"><tspan class="m" textLength="41" lengthAdjust="spacingAndGlyphs">−</tspan>45</text>
<text x="2328.9" y="821"><tspan class="m" textLength="41" lengthAdjust="spacingAndGlyphs">−</tspan>43</text>
<text x="1830.5" y="894.9"><tspan font-style="italic">X</tspan>/mm</text>
<text transform="translate(1387.9 532) rotate(-90)"><tspan font-style="italic">Z</tspan>/mm</text>
<text x="1884.2" y="967.6">(b)</text>
</g>
<g id="panel-c">
<path d="M236.5 1635.5 H1132.5 M236.5 1567.7 H1132.5 M236.5 1499.9 H1132.5 M236.5 1432.1 H1132.5 M236.5 1364.3 H1132.5 M236.5 1296.5 H1132.5 M236.5 1228.7 H1132.5 M236.5 1160.9 H1132.5 M236.5 1093.1 H1132.5 M385.5 1025.4 V1703.4 M534.9 1025.4 V1703.4 M684.3 1025.4 V1703.4 M833.7 1025.4 V1703.4 M983.1 1025.4 V1703.4 M1132.5 1025.4 V1703.4" fill="none" stroke="#f2f2f2" stroke-width="6.8" stroke-linecap="butt"/>
<path d="M236.5 1024.5 H1131.5" fill="none" stroke="#f2f2f2" stroke-width="8.9" stroke-linecap="round"/>
<polygon points="405.3,1069.2 420.32,1074.46 435.34,1079.72 450.35,1084.99 465.37,1090.25 480.39,1095.51 495.41,1100.78 510.42,1106.04 525.44,1111.3 540.46,1116.56 555.48,1121.83 570.49,1127.09 585.51,1132.35 600.53,1137.61 615.55,1142.88 630.56,1148.14 645.58,1153.4 660.6,1158.66 675.62,1163.92 690.63,1169.19 705.65,1174.45 720.67,1179.71 735.69,1184.97 750.7,1190.24 765.72,1195.5 780.74,1200.76 795.76,1206.03 810.77,1211.29 825.79,1216.55 840.81,1221.81 855.83,1227.08 870.84,1232.34 885.86,1237.6 900.88,1242.86 915.89,1248.12 930.91,1253.39 945.93,1258.65 960.95,1263.91 975.96,1269.17 990.98,1274.44 1006,1279.7 913.2,1625.95 913.2,1625.95 897.85,1622.52 882.51,1619.05 867.16,1615.54 851.81,1612 836.46,1608.42 821.12,1604.8 805.77,1601.14 790.42,1597.45 775.07,1593.72 759.73,1589.96 744.38,1586.16 729.03,1582.32 713.68,1578.44 698.34,1574.53 682.99,1570.58 667.64,1566.59 652.29,1562.57 636.95,1558.51 621.6,1554.41 606.25,1550.27 590.9,1546.1 575.56,1541.89 560.21,1537.65 544.86,1533.37 529.51,1529.05 514.16,1524.69 498.82,1520.3 483.47,1515.87 468.12,1511.4 452.78,1506.9 437.43,1502.35 422.08,1497.78 406.73,1493.16 391.38,1488.51 376.04,1483.82 360.69,1479.1 345.34,1474.33 330,1469.54 314.65,1464.7 299.3,1459.83" fill="#fff"/>
<path d="M405.3 1069.2 L1006 1279.7 M400 1088.73 L425.06 1097.47 L450.11 1106.2 L475.17 1114.93 L500.23 1123.65 L525.28 1132.37 L550.34 1141.08 L575.4 1149.79 L600.45 1158.49 L625.51 1167.18 L650.57 1175.87 L675.62 1184.56 L700.68 1193.24 L725.74 1201.92 L750.79 1210.59 L775.85 1219.25 L800.91 1227.91 L825.96 1236.57 L851.02 1245.22 L876.08 1253.86 L901.13 1262.5 L926.19 1271.14 L951.25 1279.77 L976.3 1288.39 L1001.36 1297.01 M394.7 1108.26 L419.78 1116.97 L444.87 1125.66 L469.95 1134.34 L495.04 1143.02 L520.12 1151.68 L545.21 1160.33 L570.29 1168.97 L595.37 1177.61 L620.46 1186.23 L645.54 1194.84 L670.63 1203.44 L695.71 1212.03 L720.79 1220.61 L745.88 1229.18 L770.96 1237.74 L796.05 1246.29 L821.13 1254.83 L846.22 1263.36 L871.3 1271.88 L896.38 1280.39 L921.47 1288.89 L946.55 1297.38 L971.64 1305.86 L996.72 1314.33 M389.4 1127.79 L414.51 1136.46 L439.62 1145.12 L464.74 1153.76 L489.85 1162.38 L514.96 1170.99 L540.07 1179.59 L565.18 1188.16 L590.29 1196.73 L615.4 1205.27 L640.52 1213.81 L665.63 1222.32 L690.74 1230.82 L715.85 1239.31 L740.96 1247.78 L766.07 1256.23 L791.19 1264.67 L816.3 1273.1 L841.41 1281.51 L866.52 1289.9 L891.63 1298.28 L916.75 1306.64 L941.86 1314.99 L966.97 1323.32 L992.08 1331.64 M384.1 1147.33 L409.24 1155.96 L434.38 1164.58 L459.52 1173.17 L484.66 1181.75 L509.8 1190.3 L534.94 1198.84 L560.07 1207.35 L585.21 1215.85 L610.35 1224.32 L635.49 1232.77 L660.63 1241.2 L685.77 1249.61 L710.91 1258.01 L736.05 1266.38 L761.19 1274.73 L786.33 1283.05 L811.47 1291.36 L836.61 1299.65 L861.74 1307.92 L886.88 1316.17 L912.02 1324.39 L937.16 1332.6 L962.3 1340.79 L987.44 1348.95 M378.8 1166.86 L403.97 1175.46 L429.13 1184.04 L454.3 1192.59 L479.47 1201.12 L504.63 1209.62 L529.8 1218.09 L554.97 1226.54 L580.13 1234.97 L605.3 1243.36 L630.47 1251.74 L655.63 1260.08 L680.8 1268.41 L705.97 1276.7 L731.13 1284.97 L756.3 1293.22 L781.47 1301.44 L806.63 1309.63 L831.8 1317.8 L856.97 1325.94 L882.13 1334.05 L907.3 1342.15 L932.47 1350.21 L957.63 1358.25 L982.8 1366.26 M373.5 1186.39 L398.69 1194.96 L423.89 1203.5 L449.08 1212.01 L474.28 1220.48 L499.47 1228.93 L524.66 1237.35 L549.86 1245.73 L575.05 1254.09 L600.25 1262.41 L625.44 1270.7 L650.64 1278.97 L675.83 1287.2 L701.02 1295.4 L726.22 1303.57 L751.41 1311.71 L776.61 1319.82 L801.8 1327.89 L827 1335.94 L852.19 1343.96 L877.38 1351.94 L902.58 1359.9 L927.77 1367.82 L952.97 1375.71 L978.16 1383.58 M368.2 1205.92 L393.42 1214.46 L418.64 1222.96 L443.87 1231.42 L469.09 1239.85 L494.31 1248.24 L519.53 1256.6 L544.75 1264.92 L569.97 1273.21 L595.2 1281.46 L620.42 1289.67 L645.64 1297.85 L670.86 1305.99 L696.08 1314.09 L721.3 1322.16 L746.52 1330.2 L771.75 1338.2 L796.97 1346.16 L822.19 1354.08 L847.41 1361.97 L872.63 1369.83 L897.86 1377.65 L923.08 1385.43 L948.3 1393.18 L973.52 1400.89 M362.9 1225.45 L388.15 1233.95 L413.4 1242.42 L438.65 1250.84 L463.9 1259.22 L489.15 1267.56 L514.39 1275.85 L539.64 1284.11 L564.89 1292.33 L590.14 1300.5 L615.39 1308.63 L640.64 1316.73 L665.89 1324.78 L691.14 1332.79 L716.39 1340.76 L741.64 1348.69 L766.89 1356.58 L792.14 1364.42 L817.38 1372.23 L842.63 1379.99 L867.88 1387.72 L893.13 1395.4 L918.38 1403.04 L943.63 1410.64 L968.88 1418.2 M357.6 1244.98 L382.88 1253.45 L408.15 1261.87 L433.43 1270.25 L458.71 1278.58 L483.98 1286.87 L509.26 1295.11 L534.54 1303.3 L559.81 1311.45 L585.09 1319.55 L610.37 1327.6 L635.64 1335.61 L660.92 1343.57 L686.2 1351.49 L711.47 1359.36 L736.75 1367.18 L762.03 1374.96 L787.3 1382.69 L812.58 1390.37 L837.86 1398.01 L863.13 1405.6 L888.41 1413.15 L913.69 1420.65 L938.96 1428.11 L964.24 1435.51 M352.3 1264.51 L377.6 1272.95 L402.91 1281.33 L428.21 1289.67 L453.52 1297.95 L478.82 1306.18 L504.12 1314.36 L529.43 1322.49 L554.73 1330.57 L580.04 1338.59 L605.34 1346.57 L630.65 1354.49 L655.95 1362.36 L681.25 1370.18 L706.56 1377.95 L731.86 1385.67 L757.17 1393.34 L782.47 1400.95 L807.78 1408.52 L833.08 1416.03 L858.38 1423.49 L883.69 1430.9 L908.99 1438.26 L934.3 1445.57 L959.6 1452.83 M347 1284.04 L372.33 1292.45 L397.66 1300.79 L423 1309.08 L448.33 1317.32 L473.66 1325.49 L498.99 1333.61 L524.32 1341.68 L549.65 1349.69 L574.99 1357.64 L600.32 1365.53 L625.65 1373.37 L650.98 1381.15 L676.31 1388.88 L701.64 1396.55 L726.98 1404.16 L752.31 1411.72 L777.64 1419.22 L802.97 1426.66 L828.3 1434.05 L853.63 1441.38 L878.97 1448.65 L904.3 1455.87 L929.63 1463.03 L954.96 1470.14 M341.7 1303.58 L367.06 1311.94 L392.42 1320.25 L417.78 1328.5 L443.14 1336.68 L468.5 1344.81 L493.86 1352.87 L519.21 1360.87 L544.57 1368.81 L569.93 1376.68 L595.29 1384.5 L620.65 1392.25 L646.01 1399.94 L671.37 1407.57 L696.73 1415.14 L722.09 1422.65 L747.45 1430.1 L772.81 1437.48 L798.17 1444.81 L823.52 1452.07 L848.88 1459.27 L874.24 1466.41 L899.6 1473.48 L924.96 1480.5 L950.32 1487.45 M336.4 1323.11 L361.79 1331.44 L387.17 1339.71 L412.56 1347.91 L437.95 1356.05 L463.33 1364.12 L488.72 1372.12 L514.11 1380.06 L539.49 1387.93 L564.88 1395.73 L590.27 1403.46 L615.65 1411.13 L641.04 1418.74 L666.43 1426.27 L691.81 1433.74 L717.2 1441.14 L742.59 1448.48 L767.97 1455.75 L793.36 1462.95 L818.75 1470.09 L844.13 1477.15 L869.52 1484.16 L894.91 1491.09 L920.29 1497.96 L945.68 1504.76 M331.1 1342.64 L356.51 1350.94 L381.93 1359.17 L407.34 1367.33 L432.76 1375.42 L458.17 1383.43 L483.59 1391.37 L509 1399.25 L534.41 1407.05 L559.83 1414.77 L585.24 1422.43 L610.66 1430.01 L636.07 1437.53 L661.48 1444.97 L686.9 1452.34 L712.31 1459.63 L737.73 1466.86 L763.14 1474.01 L788.56 1481.09 L813.97 1488.1 L839.38 1495.04 L864.8 1501.91 L890.21 1508.7 L915.63 1515.43 L941.04 1522.08 M325.8 1362.17 L351.24 1370.44 L376.68 1378.63 L402.13 1386.75 L427.57 1394.78 L453.01 1402.74 L478.45 1410.63 L503.89 1418.44 L529.33 1426.17 L554.78 1433.82 L580.22 1441.4 L605.66 1448.89 L631.1 1456.32 L656.54 1463.66 L681.98 1470.93 L707.42 1478.12 L732.87 1485.24 L758.31 1492.28 L783.75 1499.24 L809.19 1506.12 L834.63 1512.93 L860.08 1519.66 L885.52 1526.31 L910.96 1532.89 L936.4 1539.39 M320.5 1381.7 L345.97 1389.94 L371.44 1398.09 L396.91 1406.16 L422.38 1414.15 L447.85 1422.06 L473.31 1429.88 L498.78 1437.62 L524.25 1445.29 L549.72 1452.86 L575.19 1460.36 L600.66 1467.78 L626.13 1475.11 L651.6 1482.36 L677.07 1489.53 L702.54 1496.61 L728.01 1503.62 L753.48 1510.54 L778.95 1517.38 L804.41 1524.14 L829.88 1530.82 L855.35 1537.41 L880.82 1543.92 L906.29 1550.35 L931.76 1556.7 M315.2 1401.23 L340.7 1409.43 L366.19 1417.55 L391.69 1425.58 L417.19 1433.52 L442.68 1441.37 L468.18 1449.14 L493.68 1456.81 L519.17 1464.41 L544.67 1471.91 L570.17 1479.33 L595.66 1486.66 L621.16 1493.9 L646.66 1501.06 L672.15 1508.12 L697.65 1515.11 L723.15 1522 L748.64 1528.81 L774.14 1535.53 L799.64 1542.16 L825.13 1548.7 L850.63 1555.16 L876.13 1561.53 L901.62 1567.82 L927.12 1574.02 M309.9 1420.76 L335.42 1428.93 L360.95 1437.01 L386.47 1444.99 L412 1452.88 L437.52 1460.68 L463.05 1468.39 L488.57 1476 L514.09 1483.53 L539.62 1490.96 L565.14 1498.29 L590.67 1505.54 L616.19 1512.69 L641.71 1519.75 L667.24 1526.72 L692.76 1533.6 L718.29 1540.38 L743.81 1547.07 L769.34 1553.67 L794.86 1560.18 L820.38 1566.59 L845.91 1572.91 L871.43 1579.14 L896.96 1585.28 L922.48 1591.33 M304.6 1440.3 L330.15 1448.43 L355.7 1456.47 L381.26 1464.41 L406.81 1472.25 L432.36 1479.99 L457.91 1487.64 L483.46 1495.19 L509.01 1502.65 L534.57 1510 L560.12 1517.26 L585.67 1524.42 L611.22 1531.48 L636.77 1538.45 L662.32 1545.32 L687.88 1552.09 L713.43 1558.76 L738.98 1565.34 L764.53 1571.81 L790.08 1578.2 L815.63 1584.48 L841.19 1590.67 L866.74 1596.76 L892.29 1602.75 L917.84 1608.64 M299.3 1459.83 L324.88 1467.93 L350.46 1475.93 L376.04 1483.82 L401.62 1491.62 L427.2 1499.31 L452.78 1506.9 L478.35 1514.38 L503.93 1521.77 L529.51 1529.05 L555.09 1536.22 L580.67 1543.3 L606.25 1550.27 L631.83 1557.14 L657.41 1563.91 L682.99 1570.58 L708.57 1577.14 L734.15 1583.6 L759.73 1589.96 L785.3 1596.21 L810.88 1602.37 L836.46 1608.42 L862.04 1614.37 L887.62 1620.21 L913.2 1625.95 M405.3 1069.2 L299.3 1459.83 M465.37 1090.25 L360.69 1479.1 M525.44 1111.3 L422.08 1497.78 M585.51 1132.35 L483.47 1515.87 M645.58 1153.4 L544.86 1533.37 M705.65 1174.45 L606.25 1550.27 M765.72 1195.5 L667.64 1566.59 M825.79 1216.55 L729.03 1582.32 M885.86 1237.6 L790.42 1597.45 M945.93 1258.65 L851.81 1612 M1006 1279.7 L913.2 1625.95" fill="none" stroke="#808080" stroke-width="8.7" stroke-linecap="square"/>
<path d="M319.88 1462.66 L341.21 1469.35 L362.54 1475.97 L383.87 1482.53 L405.21 1489.01 L426.54 1495.42 L447.87 1501.75 L469.2 1508.02 L490.53 1514.22 L511.86 1520.34 L533.19 1526.39 L554.52 1532.37 L575.85 1538.28 L597.18 1544.12 L618.52 1549.89 L639.85 1555.59 L661.18 1561.21 L682.51 1566.77 L703.84 1572.25 L725.17 1577.66 L746.5 1583 L767.83 1588.27 L789.16 1593.46 L810.49 1598.59 L831.83 1603.64 L853.16 1608.63 L874.49 1613.54 L895.82 1618.38 L917.15 1623.15 L915.69 1622.82 Q917.15 1623.15 916.83 1624.61 L906.06 1674.51 Q905 1679.4 900.28 1677.76 L297.88 1468.79 Q294.1 1467.47 295.53 1463.74 L297.47 1458.69 Q298.55 1455.89 301.41 1456.8 Z" fill="#7d8388"/>
<path d="M319.73 1462.31 L341.06 1469 L362.39 1475.62 L383.72 1482.18 L405.06 1488.66 L426.39 1495.07 L447.72 1501.4 L469.05 1507.67 L490.38 1513.87 L511.71 1519.99 L533.04 1526.04 L554.37 1532.02 L575.7 1537.93 L597.03 1543.77 L618.37 1549.54 L639.7 1555.24 L661.03 1560.86 L682.36 1566.42 L703.69 1571.9 L725.02 1577.31 L746.35 1582.65 L767.68 1587.92 L789.01 1593.11 L810.34 1598.24 L831.68 1603.29 L853.01 1608.28 L874.34 1613.19 L895.67 1618.03 L917 1622.8 L915.54 1622.47 Q917 1622.8 916.67 1624.26 L905.5 1673.72 Q904.4 1678.6 899.68 1676.96 L298.18 1468.21 Q294.4 1466.9 295.73 1463.13 L297.4 1458.37 Q298.4 1455.54 301.26 1456.45 Z" fill="#ff7000"/>
<ellipse cx="454.5" cy="1198" rx="84.7" ry="37.7" transform="rotate(4 454.5 1198)" fill="none" stroke="#ff0000" stroke-width="8.8"/>
<ellipse cx="500.8" cy="1226.5" rx="77.6" ry="36.6" transform="rotate(4 500.8 1226.5)" fill="none" stroke="#ff0000" stroke-width="8.8"/>
<ellipse cx="552.7" cy="1253" rx="73.5" ry="33" transform="rotate(4 552.7 1253)" fill="none" stroke="#ff0000" stroke-width="8.8"/>
<ellipse cx="612.5" cy="1282.5" rx="72.4" ry="31.4" transform="rotate(4 612.5 1282.5)" fill="none" stroke="#ff0000" stroke-width="8.8"/>
<ellipse cx="657.3" cy="1305" rx="70" ry="33" transform="rotate(4 657.3 1305)" fill="none" stroke="#ff0000" stroke-width="8.8"/>
<ellipse cx="699.6" cy="1323.4" rx="68" ry="32" transform="rotate(4 699.6 1323.4)" fill="none" stroke="#ff0000" stroke-width="8.8"/>
<ellipse cx="736.6" cy="1339.6" rx="66" ry="31" transform="rotate(4 736.6 1339.6)" fill="none" stroke="#ff0000" stroke-width="8.8"/>
<ellipse cx="781.2" cy="1362.3" rx="64.5" ry="30" transform="rotate(4 781.2 1362.3)" fill="none" stroke="#ff0000" stroke-width="8.8"/>
<ellipse cx="822.5" cy="1379.4" rx="63" ry="29" transform="rotate(4 822.5 1379.4)" fill="none" stroke="#ff0000" stroke-width="8.8"/>
<ellipse cx="863.5" cy="1397.4" rx="62" ry="27.5" transform="rotate(4 863.5 1397.4)" fill="none" stroke="#ff0000" stroke-width="8.8"/>
<ellipse cx="900.1" cy="1413.2" rx="60.5" ry="26.6" transform="rotate(4 900.1 1413.2)" fill="none" stroke="#ff0000" stroke-width="8.8"/>
<circle cx="454.3" cy="1199.6" r="5.4" fill="#000"/>
<circle cx="501.3" cy="1226.9" r="5.4" fill="#000"/>
<circle cx="553.2" cy="1252.5" r="5.4" fill="#000"/>
<circle cx="612.5" cy="1282.3" r="5.4" fill="#000"/>
<circle cx="657.3" cy="1305" r="5.4" fill="#000"/>
<circle cx="699.6" cy="1323.4" r="5.4" fill="#000"/>
<circle cx="736.6" cy="1339.6" r="5.4" fill="#000"/>
<circle cx="781.2" cy="1362.3" r="5.4" fill="#000"/>
<circle cx="822.5" cy="1379.4" r="5.4" fill="#000"/>
<circle cx="863.5" cy="1397.4" r="5.4" fill="#000"/>
<circle cx="900.1" cy="1413.2" r="5.4" fill="#000"/>
<path d="M236.5 1025.4 V1703.4 H1132.5" fill="none" stroke="#000" stroke-width="8.9" stroke-linecap="round" stroke-linejoin="round"/>
<path d="M236.5 1703.4 h7.15 M236.5 1635.6 h7.15 M236.5 1567.8 h7.15 M236.5 1500 h7.15 M236.5 1432.2 h7.15 M236.5 1364.4 h7.15 M236.5 1296.6 h7.15 M236.5 1228.8 h7.15 M236.5 1161 h7.15 M236.5 1093.2 h7.15 M236.5 1025.4 h7.15 M385.5 1703.4 v-6.95 M534.9 1703.4 v-6.95 M684.3 1703.4 v-6.95 M833.7 1703.4 v-6.95 M983.1 1703.4 v-6.95 M1132.5 1703.4 v-6.95" fill="none" stroke="#000" stroke-width="8.9" stroke-linecap="round"/>
<text x="207.7" y="1054.7" text-anchor="end">13</text>
<text x="207.7" y="1186.2" text-anchor="end">11</text>
<text x="210" y="1322.4" text-anchor="end">9</text>
<text x="209" y="1459.3" text-anchor="end">7</text>
<text x="207.4" y="1592.5" text-anchor="end">5</text>
<text x="206.8" y="1716.2" text-anchor="end">3</text>
<text x="199.5" y="1783.2"><tspan class="m" textLength="41" lengthAdjust="spacingAndGlyphs">−</tspan>55</text>
<text x="336" y="1783.2"><tspan class="m" textLength="41" lengthAdjust="spacingAndGlyphs">−</tspan>53</text>
<text x="484.5" y="1783.2"><tspan class="m" textLength="41" lengthAdjust="spacingAndGlyphs">−</tspan>51</text>
<text x="638.6" y="1783.2"><tspan class="m" textLength="41" lengthAdjust="spacingAndGlyphs">−</tspan>49</text>
<text x="782.4" y="1783.2"><tspan class="m" textLength="41" lengthAdjust="spacingAndGlyphs">−</tspan>47</text>
<text x="936.2" y="1783.2"><tspan class="m" textLength="41" lengthAdjust="spacingAndGlyphs">−</tspan>45</text>
<text x="1078.5" y="1783.2"><tspan class="m" textLength="41" lengthAdjust="spacingAndGlyphs">−</tspan>43</text>
<text x="540.4" y="1861.1"><tspan font-style="italic">X</tspan>/mm</text>
<text transform="translate(121 1476.8) rotate(-90)"><tspan font-style="italic">Z</tspan>/mm</text>
<text x="595.1" y="1934">(c)</text>
</g>
<g id="panel-d">
<path d="M1493.5 1635.5 H2389.4 M1493.5 1567.7 H2389.4 M1493.5 1499.9 H2389.4 M1493.5 1432.1 H2389.4 M1493.5 1364.3 H2389.4 M1493.5 1296.5 H2389.4 M1493.5 1228.7 H2389.4 M1493.5 1160.9 H2389.4 M1493.5 1093.1 H2389.4 M1643.6 1025.4 V1703.4 M1792.76 1025.4 V1703.4 M1941.92 1025.4 V1703.4 M2091.08 1025.4 V1703.4 M2240.24 1025.4 V1703.4 M2389.4 1025.4 V1703.4" fill="none" stroke="#f2f2f2" stroke-width="6.8" stroke-linecap="butt"/>
<path d="M1493.5 1024.5 H2388.4" fill="none" stroke="#f2f2f2" stroke-width="8.9" stroke-linecap="round"/>
<polygon points="1663.4,1069.2 1678.42,1074.46 1693.43,1079.72 1708.45,1084.99 1723.47,1090.25 1738.49,1095.51 1753.5,1100.78 1768.52,1106.04 1783.54,1111.3 1798.56,1116.56 1813.57,1121.83 1828.59,1127.09 1843.61,1132.35 1858.63,1137.61 1873.64,1142.88 1888.66,1148.14 1903.68,1153.4 1918.7,1158.66 1933.71,1163.92 1948.73,1169.19 1963.75,1174.45 1978.77,1179.71 1993.78,1184.97 2008.8,1190.24 2023.82,1195.5 2038.84,1200.76 2053.86,1206.03 2068.87,1211.29 2083.89,1216.55 2098.91,1221.81 2113.93,1227.08 2128.94,1232.34 2143.96,1237.6 2158.98,1242.86 2173.99,1248.12 2189.01,1253.39 2204.03,1258.65 2219.05,1263.91 2234.06,1269.17 2249.08,1274.44 2264.1,1279.7 2171.3,1625.95 2171.3,1625.95 2155.95,1622.52 2140.61,1619.05 2125.26,1615.54 2109.91,1612 2094.56,1608.42 2079.22,1604.8 2063.87,1601.14 2048.52,1597.45 2033.17,1593.72 2017.83,1589.96 2002.48,1586.16 1987.13,1582.32 1971.78,1578.44 1956.43,1574.53 1941.09,1570.58 1925.74,1566.59 1910.39,1562.57 1895.05,1558.51 1879.7,1554.41 1864.35,1550.27 1849,1546.1 1833.65,1541.89 1818.31,1537.65 1802.96,1533.37 1787.61,1529.05 1772.26,1524.69 1756.92,1520.3 1741.57,1515.87 1726.22,1511.4 1710.88,1506.9 1695.53,1502.35 1680.18,1497.78 1664.83,1493.16 1649.48,1488.51 1634.14,1483.82 1618.79,1479.1 1603.44,1474.33 1588.09,1469.54 1572.75,1464.7 1557.4,1459.83" fill="#fff"/>
<path d="M1663.4 1069.2 L2264.1 1279.7 M1658.1 1088.73 L1683.16 1097.47 L1708.21 1106.2 L1733.27 1114.93 L1758.33 1123.65 L1783.38 1132.37 L1808.44 1141.08 L1833.5 1149.79 L1858.55 1158.49 L1883.61 1167.18 L1908.67 1175.87 L1933.72 1184.56 L1958.78 1193.24 L1983.84 1201.92 L2008.89 1210.59 L2033.95 1219.25 L2059.01 1227.91 L2084.06 1236.57 L2109.12 1245.22 L2134.18 1253.86 L2159.23 1262.5 L2184.29 1271.14 L2209.35 1279.77 L2234.4 1288.39 L2259.46 1297.01 M1652.8 1108.26 L1677.88 1116.97 L1702.97 1125.66 L1728.05 1134.34 L1753.14 1143.02 L1778.22 1151.68 L1803.3 1160.33 L1828.39 1168.97 L1853.47 1177.61 L1878.56 1186.23 L1903.64 1194.84 L1928.73 1203.44 L1953.81 1212.03 L1978.89 1220.61 L2003.98 1229.18 L2029.06 1237.74 L2054.15 1246.29 L2079.23 1254.83 L2104.32 1263.36 L2129.4 1271.88 L2154.48 1280.39 L2179.57 1288.89 L2204.65 1297.38 L2229.74 1305.86 L2254.82 1314.33 M1647.5 1127.79 L1672.61 1136.46 L1697.72 1145.12 L1722.84 1153.76 L1747.95 1162.38 L1773.06 1170.99 L1798.17 1179.59 L1823.28 1188.16 L1848.39 1196.73 L1873.5 1205.27 L1898.62 1213.81 L1923.73 1222.32 L1948.84 1230.82 L1973.95 1239.31 L1999.06 1247.78 L2024.17 1256.23 L2049.29 1264.67 L2074.4 1273.1 L2099.51 1281.51 L2124.62 1289.9 L2149.73 1298.28 L2174.85 1306.64 L2199.96 1314.99 L2225.07 1323.32 L2250.18 1331.64 M1642.2 1147.33 L1667.34 1155.96 L1692.48 1164.58 L1717.62 1173.17 L1742.76 1181.75 L1767.9 1190.3 L1793.03 1198.84 L1818.17 1207.35 L1843.31 1215.85 L1868.45 1224.32 L1893.59 1232.77 L1918.73 1241.2 L1943.87 1249.61 L1969.01 1258.01 L1994.15 1266.38 L2019.29 1274.73 L2044.43 1283.05 L2069.57 1291.36 L2094.7 1299.65 L2119.84 1307.92 L2144.98 1316.17 L2170.12 1324.39 L2195.26 1332.6 L2220.4 1340.79 L2245.54 1348.95 M1636.9 1166.86 L1662.07 1175.46 L1687.23 1184.04 L1712.4 1192.59 L1737.57 1201.12 L1762.73 1209.62 L1787.9 1218.09 L1813.07 1226.54 L1838.23 1234.97 L1863.4 1243.36 L1888.57 1251.74 L1913.73 1260.08 L1938.9 1268.41 L1964.07 1276.7 L1989.23 1284.97 L2014.4 1293.22 L2039.57 1301.44 L2064.73 1309.63 L2089.9 1317.8 L2115.07 1325.94 L2140.23 1334.05 L2165.4 1342.15 L2190.57 1350.21 L2215.73 1358.25 L2240.9 1366.26 M1631.6 1186.39 L1656.79 1194.96 L1681.99 1203.5 L1707.18 1212.01 L1732.38 1220.48 L1757.57 1228.93 L1782.76 1237.35 L1807.96 1245.73 L1833.15 1254.09 L1858.35 1262.41 L1883.54 1270.7 L1908.74 1278.97 L1933.93 1287.2 L1959.12 1295.4 L1984.32 1303.57 L2009.51 1311.71 L2034.71 1319.82 L2059.9 1327.89 L2085.09 1335.94 L2110.29 1343.96 L2135.48 1351.94 L2160.68 1359.9 L2185.87 1367.82 L2211.07 1375.71 L2236.26 1383.58 M1626.3 1205.92 L1651.52 1214.46 L1676.74 1222.96 L1701.96 1231.42 L1727.19 1239.85 L1752.41 1248.24 L1777.63 1256.6 L1802.85 1264.92 L1828.07 1273.21 L1853.3 1281.46 L1878.52 1289.67 L1903.74 1297.85 L1928.96 1305.99 L1954.18 1314.09 L1979.4 1322.16 L2004.62 1330.2 L2029.85 1338.2 L2055.07 1346.16 L2080.29 1354.08 L2105.51 1361.97 L2130.73 1369.83 L2155.95 1377.65 L2181.18 1385.43 L2206.4 1393.18 L2231.62 1400.89 M1621 1225.45 L1646.25 1233.95 L1671.5 1242.42 L1696.75 1250.84 L1722 1259.22 L1747.25 1267.56 L1772.49 1275.85 L1797.74 1284.11 L1822.99 1292.33 L1848.24 1300.5 L1873.49 1308.63 L1898.74 1316.73 L1923.99 1324.78 L1949.24 1332.79 L1974.49 1340.76 L1999.74 1348.69 L2024.99 1356.58 L2050.24 1364.42 L2075.48 1372.23 L2100.73 1379.99 L2125.98 1387.72 L2151.23 1395.4 L2176.48 1403.04 L2201.73 1410.64 L2226.98 1418.2 M1615.7 1244.98 L1640.98 1253.45 L1666.25 1261.87 L1691.53 1270.25 L1716.81 1278.58 L1742.08 1286.87 L1767.36 1295.11 L1792.64 1303.3 L1817.91 1311.45 L1843.19 1319.55 L1868.47 1327.6 L1893.74 1335.61 L1919.02 1343.57 L1944.3 1351.49 L1969.57 1359.36 L1994.85 1367.18 L2020.13 1374.96 L2045.4 1382.69 L2070.68 1390.37 L2095.96 1398.01 L2121.23 1405.6 L2146.51 1413.15 L2171.79 1420.65 L2197.06 1428.11 L2222.34 1435.51 M1610.4 1264.51 L1635.7 1272.95 L1661.01 1281.33 L1686.31 1289.67 L1711.62 1297.95 L1736.92 1306.18 L1762.22 1314.36 L1787.53 1322.49 L1812.83 1330.57 L1838.14 1338.59 L1863.44 1346.57 L1888.75 1354.49 L1914.05 1362.36 L1939.35 1370.18 L1964.66 1377.95 L1989.96 1385.67 L2015.27 1393.34 L2040.57 1400.95 L2065.88 1408.52 L2091.18 1416.03 L2116.48 1423.49 L2141.79 1430.9 L2167.09 1438.26 L2192.4 1445.57 L2217.7 1452.83 M1605.1 1284.04 L1630.43 1292.45 L1655.76 1300.79 L1681.09 1309.08 L1706.43 1317.32 L1731.76 1325.49 L1757.09 1333.61 L1782.42 1341.68 L1807.75 1349.69 L1833.09 1357.64 L1858.42 1365.53 L1883.75 1373.37 L1909.08 1381.15 L1934.41 1388.88 L1959.74 1396.55 L1985.07 1404.16 L2010.41 1411.72 L2035.74 1419.22 L2061.07 1426.66 L2086.4 1434.05 L2111.73 1441.38 L2137.07 1448.65 L2162.4 1455.87 L2187.73 1463.03 L2213.06 1470.14 M1599.8 1303.58 L1625.16 1311.94 L1650.52 1320.25 L1675.88 1328.5 L1701.24 1336.68 L1726.6 1344.81 L1751.95 1352.87 L1777.31 1360.87 L1802.67 1368.81 L1828.03 1376.68 L1853.39 1384.5 L1878.75 1392.25 L1904.11 1399.94 L1929.47 1407.57 L1954.83 1415.14 L1980.19 1422.65 L2005.55 1430.1 L2030.91 1437.48 L2056.27 1444.81 L2081.62 1452.07 L2106.98 1459.27 L2132.34 1466.41 L2157.7 1473.48 L2183.06 1480.5 L2208.42 1487.45 M1594.5 1323.11 L1619.89 1331.44 L1645.27 1339.71 L1670.66 1347.91 L1696.05 1356.05 L1721.43 1364.12 L1746.82 1372.12 L1772.21 1380.06 L1797.59 1387.93 L1822.98 1395.73 L1848.37 1403.46 L1873.75 1411.13 L1899.14 1418.74 L1924.53 1426.27 L1949.91 1433.74 L1975.3 1441.14 L2000.69 1448.48 L2026.07 1455.75 L2051.46 1462.95 L2076.85 1470.09 L2102.23 1477.15 L2127.62 1484.16 L2153.01 1491.09 L2178.39 1497.96 L2203.78 1504.76 M1589.2 1342.64 L1614.61 1350.94 L1640.03 1359.17 L1665.44 1367.33 L1690.86 1375.42 L1716.27 1383.43 L1741.68 1391.37 L1767.1 1399.25 L1792.51 1407.05 L1817.93 1414.77 L1843.34 1422.43 L1868.76 1430.01 L1894.17 1437.53 L1919.58 1444.97 L1945 1452.34 L1970.41 1459.63 L1995.83 1466.86 L2021.24 1474.01 L2046.66 1481.09 L2072.07 1488.1 L2097.48 1495.04 L2122.9 1501.91 L2148.31 1508.7 L2173.73 1515.43 L2199.14 1522.08 M1583.9 1362.17 L1609.34 1370.44 L1634.78 1378.63 L1660.22 1386.75 L1685.67 1394.78 L1711.11 1402.74 L1736.55 1410.63 L1761.99 1418.44 L1787.43 1426.17 L1812.88 1433.82 L1838.32 1441.4 L1863.76 1448.89 L1889.2 1456.32 L1914.64 1463.66 L1940.08 1470.93 L1965.52 1478.12 L1990.97 1485.24 L2016.41 1492.28 L2041.85 1499.24 L2067.29 1506.12 L2092.73 1512.93 L2118.18 1519.66 L2143.62 1526.31 L2169.06 1532.89 L2194.5 1539.39 M1578.6 1381.7 L1604.07 1389.94 L1629.54 1398.09 L1655.01 1406.16 L1680.48 1414.15 L1705.95 1422.06 L1731.41 1429.88 L1756.88 1437.62 L1782.35 1445.29 L1807.82 1452.86 L1833.29 1460.36 L1858.76 1467.78 L1884.23 1475.11 L1909.7 1482.36 L1935.17 1489.53 L1960.64 1496.61 L1986.11 1503.62 L2011.58 1510.54 L2037.05 1517.38 L2062.51 1524.14 L2087.98 1530.82 L2113.45 1537.41 L2138.92 1543.92 L2164.39 1550.35 L2189.86 1556.7 M1573.3 1401.23 L1598.8 1409.43 L1624.29 1417.55 L1649.79 1425.58 L1675.29 1433.52 L1700.78 1441.37 L1726.28 1449.14 L1751.78 1456.81 L1777.27 1464.41 L1802.77 1471.91 L1828.27 1479.33 L1853.76 1486.66 L1879.26 1493.9 L1904.76 1501.06 L1930.25 1508.12 L1955.75 1515.11 L1981.25 1522 L2006.74 1528.81 L2032.24 1535.53 L2057.74 1542.16 L2083.23 1548.7 L2108.73 1555.16 L2134.23 1561.53 L2159.72 1567.82 L2185.22 1574.02 M1568 1420.76 L1593.52 1428.93 L1619.05 1437.01 L1644.57 1444.99 L1670.1 1452.88 L1695.62 1460.68 L1721.14 1468.39 L1746.67 1476 L1772.19 1483.53 L1797.72 1490.96 L1823.24 1498.29 L1848.77 1505.54 L1874.29 1512.69 L1899.81 1519.75 L1925.34 1526.72 L1950.86 1533.6 L1976.39 1540.38 L2001.91 1547.07 L2027.43 1553.67 L2052.96 1560.18 L2078.48 1566.59 L2104.01 1572.91 L2129.53 1579.14 L2155.06 1585.28 L2180.58 1591.33 M1562.7 1440.3 L1588.25 1448.43 L1613.8 1456.47 L1639.36 1464.41 L1664.91 1472.25 L1690.46 1479.99 L1716.01 1487.64 L1741.56 1495.19 L1767.11 1502.65 L1792.66 1510 L1818.22 1517.26 L1843.77 1524.42 L1869.32 1531.48 L1894.87 1538.45 L1920.42 1545.32 L1945.97 1552.09 L1971.53 1558.76 L1997.08 1565.34 L2022.63 1571.81 L2048.18 1578.2 L2073.73 1584.48 L2099.28 1590.67 L2124.84 1596.76 L2150.39 1602.75 L2175.94 1608.64 M1557.4 1459.83 L1582.98 1467.93 L1608.56 1475.93 L1634.14 1483.82 L1659.72 1491.62 L1685.3 1499.31 L1710.88 1506.9 L1736.45 1514.38 L1762.03 1521.77 L1787.61 1529.05 L1813.19 1536.22 L1838.77 1543.3 L1864.35 1550.27 L1889.93 1557.14 L1915.51 1563.91 L1941.09 1570.58 L1966.67 1577.14 L1992.25 1583.6 L2017.83 1589.96 L2043.4 1596.21 L2068.98 1602.37 L2094.56 1608.42 L2120.14 1614.37 L2145.72 1620.21 L2171.3 1625.95 M1663.4 1069.2 L1557.4 1459.83 M1723.47 1090.25 L1618.79 1479.1 M1783.54 1111.3 L1680.18 1497.78 M1843.61 1132.35 L1741.57 1515.87 M1903.68 1153.4 L1802.96 1533.37 M1963.75 1174.45 L1864.35 1550.27 M2023.82 1195.5 L1925.74 1566.59 M2083.89 1216.55 L1987.13 1582.32 M2143.96 1237.6 L2048.52 1597.45 M2204.03 1258.65 L2109.91 1612 M2264.1 1279.7 L2171.3 1625.95" fill="none" stroke="#808080" stroke-width="8.7" stroke-linecap="square"/>
<path d="M1577.98 1462.66 L1599.31 1469.35 L1620.64 1475.97 L1641.97 1482.53 L1663.31 1489.01 L1684.64 1495.42 L1705.97 1501.75 L1727.3 1508.02 L1748.63 1514.22 L1769.96 1520.34 L1791.29 1526.39 L1812.62 1532.37 L1833.95 1538.28 L1855.28 1544.12 L1876.62 1549.89 L1897.95 1555.59 L1919.28 1561.21 L1940.61 1566.77 L1961.94 1572.25 L1983.27 1577.66 L2004.6 1583 L2025.93 1588.27 L2047.26 1593.46 L2068.59 1598.59 L2089.93 1603.64 L2111.26 1608.63 L2132.59 1613.54 L2153.92 1618.38 L2175.25 1623.15 L2173.79 1622.82 Q2175.25 1623.15 2174.93 1624.61 L2164.16 1674.51 Q2163.1 1679.4 2158.38 1677.76 L1555.98 1468.79 Q1552.2 1467.47 1553.63 1463.74 L1555.57 1458.69 Q1556.65 1455.89 1559.51 1456.8 Z" fill="#7d8388"/>
<path d="M1577.83 1462.31 L1599.16 1469 L1620.49 1475.62 L1641.82 1482.18 L1663.16 1488.66 L1684.49 1495.07 L1705.82 1501.4 L1727.15 1507.67 L1748.48 1513.87 L1769.81 1519.99 L1791.14 1526.04 L1812.47 1532.02 L1833.8 1537.93 L1855.13 1543.77 L1876.47 1549.54 L1897.8 1555.24 L1919.13 1560.86 L1940.46 1566.42 L1961.79 1571.9 L1983.12 1577.31 L2004.45 1582.65 L2025.78 1587.92 L2047.11 1593.11 L2068.44 1598.24 L2089.78 1603.29 L2111.11 1608.28 L2132.44 1613.19 L2153.77 1618.03 L2175.1 1622.8 L2173.64 1622.47 Q2175.1 1622.8 2174.77 1624.26 L2163.6 1673.72 Q2162.5 1678.6 2157.78 1676.96 L1556.28 1468.21 Q1552.5 1466.9 1553.83 1463.13 L1555.5 1458.37 Q1556.5 1455.54 1559.36 1456.45 Z" fill="#ff7000"/>
<ellipse cx="1719.7" cy="1185" rx="84.7" ry="37.7" transform="rotate(4 1719.7 1185)" fill="none" stroke="#ff0000" stroke-width="8.8"/>
<ellipse cx="1766" cy="1213.5" rx="77.6" ry="36.6" transform="rotate(4 1766 1213.5)" fill="none" stroke="#ff0000" stroke-width="8.8"/>
<ellipse cx="1817.9" cy="1240" rx="73.5" ry="33" transform="rotate(4 1817.9 1240)" fill="none" stroke="#ff0000" stroke-width="8.8"/>
<ellipse cx="1877.7" cy="1269.5" rx="72.4" ry="31.4" transform="rotate(4 1877.7 1269.5)" fill="none" stroke="#ff0000" stroke-width="8.8"/>
<ellipse cx="1922.5" cy="1292" rx="70" ry="33" transform="rotate(4 1922.5 1292)" fill="none" stroke="#ff0000" stroke-width="8.8"/>
<ellipse cx="1964.8" cy="1310.4" rx="68" ry="32" transform="rotate(4 1964.8 1310.4)" fill="none" stroke="#ff0000" stroke-width="8.8"/>
<ellipse cx="2001.8" cy="1326.6" rx="66" ry="31" transform="rotate(4 2001.8 1326.6)" fill="none" stroke="#ff0000" stroke-width="8.8"/>
<ellipse cx="2046.4" cy="1349.3" rx="64.5" ry="30" transform="rotate(4 2046.4 1349.3)" fill="none" stroke="#ff0000" stroke-width="8.8"/>
<ellipse cx="2087.7" cy="1366.4" rx="63" ry="29" transform="rotate(4 2087.7 1366.4)" fill="none" stroke="#ff0000" stroke-width="8.8"/>
<ellipse cx="2128.7" cy="1384.4" rx="62" ry="27.5" transform="rotate(4 2128.7 1384.4)" fill="none" stroke="#ff0000" stroke-width="8.8"/>
<ellipse cx="2165.3" cy="1400.2" rx="60.5" ry="26.6" transform="rotate(4 2165.3 1400.2)" fill="none" stroke="#ff0000" stroke-width="8.8"/>
<circle cx="1719.5" cy="1186.6" r="5.4" fill="#000"/>
<circle cx="1766.5" cy="1213.9" r="5.4" fill="#000"/>
<circle cx="1818.4" cy="1239.5" r="5.4" fill="#000"/>
<circle cx="1877.7" cy="1269.3" r="5.4" fill="#000"/>
<circle cx="1922.5" cy="1292" r="5.4" fill="#000"/>
<circle cx="1964.8" cy="1310.4" r="5.4" fill="#000"/>
<circle cx="2001.8" cy="1326.6" r="5.4" fill="#000"/>
<circle cx="2046.4" cy="1349.3" r="5.4" fill="#000"/>
<circle cx="2087.7" cy="1366.4" r="5.4" fill="#000"/>
<circle cx="2128.7" cy="1384.4" r="5.4" fill="#000"/>
<circle cx="2165.3" cy="1400.2" r="5.4" fill="#000"/>
<path d="M1493.5 1025.4 V1703.4 H2389.4" fill="none" stroke="#000" stroke-width="8.9" stroke-linecap="round" stroke-linejoin="round"/>
<path d="M1493.5 1703.4 h7.15 M1493.5 1635.6 h7.15 M1493.5 1567.8 h7.15 M1493.5 1500 h7.15 M1493.5 1432.2 h7.15 M1493.5 1364.4 h7.15 M1493.5 1296.6 h7.15 M1493.5 1228.8 h7.15 M1493.5 1161 h7.15 M1493.5 1093.2 h7.15 M1493.5 1025.4 h7.15 M1643.6 1703.4 v-6.95 M1792.76 1703.4 v-6.95 M1941.92 1703.4 v-6.95 M2091.08 1703.4 v-6.95 M2240.24 1703.4 v-6.95 M2389.4 1703.4 v-6.95" fill="none" stroke="#000" stroke-width="8.9" stroke-linecap="round"/>
<text x="1465.3" y="1054.7" text-anchor="end">13</text>
<text x="1465.3" y="1186.2" text-anchor="end">11</text>
<text x="1467.6" y="1322.4" text-anchor="end">9</text>
<text x="1466.6" y="1459.3" text-anchor="end">7</text>
<text x="1465" y="1592.5" text-anchor="end">5</text>
<text x="1464.4" y="1716.2" text-anchor="end">3</text>
<text x="1450.3" y="1783.2"><tspan class="m" textLength="41" lengthAdjust="spacingAndGlyphs">−</tspan>55</text>
<text x="1596.8" y="1783.2"><tspan class="m" textLength="41" lengthAdjust="spacingAndGlyphs">−</tspan>53</text>
<text x="1743.3" y="1783.2"><tspan class="m" textLength="41" lengthAdjust="spacingAndGlyphs">−</tspan>51</text>
<text x="1896.1" y="1783.2"><tspan class="m" textLength="41" lengthAdjust="spacingAndGlyphs">−</tspan>49</text>
<text x="2044.9" y="1783.2"><tspan class="m" textLength="41" lengthAdjust="spacingAndGlyphs">−</tspan>47</text>
<text x="2196.2" y="1783.2"><tspan class="m" textLength="41" lengthAdjust="spacingAndGlyphs">−</tspan>45</text>
<text x="2331.4" y="1783.2"><tspan class="m" textLength="41" lengthAdjust="spacingAndGlyphs">−</tspan>43</text>
<text x="1803.5" y="1861.1"><tspan font-style="italic">X</tspan>/mm</text>
<text transform="translate(1387.9 1476.8) rotate(-90)"><tspan font-style="italic">Z</tspan>/mm</text>
<text x="1856.3" y="1934">(d)</text>
</g>
</svg>
</body>
</html>
